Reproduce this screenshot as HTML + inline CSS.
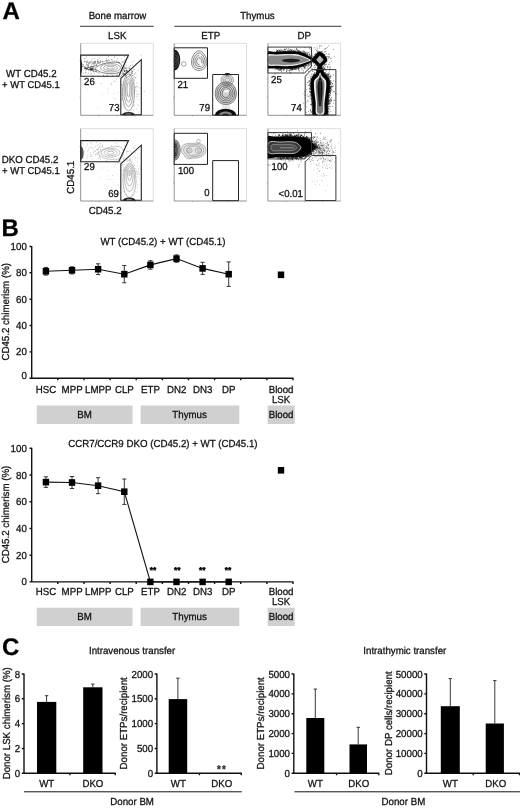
<!DOCTYPE html>
<html><head><meta charset="utf-8"><title>Figure</title>
<style>html,body{margin:0;padding:0;background:#fff}svg{display:block}text{font-family:"Liberation Sans",sans-serif;text-rendering:geometricPrecision;fill:#111;stroke:#111;stroke-width:.28px}.b{font-weight:bold;fill:#000}.m{text-anchor:middle}.e{text-anchor:end}</style></head><body>
<svg width="520" height="808" viewBox="0 0 520 808">
<defs><filter id="bl1" x="-20%" y="-20%" width="140%" height="140%"><feGaussianBlur stdDeviation="0.6"/></filter><filter id="bl2" x="-20%" y="-20%" width="140%" height="140%"><feGaussianBlur stdDeviation="1.2"/></filter><filter id="blc" x="-20%" y="-20%" width="140%" height="140%"><feGaussianBlur stdDeviation="0.3"/></filter><filter id="bl0" x="-20%" y="-20%" width="140%" height="140%"><feGaussianBlur stdDeviation="0.35"/></filter></defs>
<rect width="520" height="808" fill="#fff"/>
<text x="2.5" y="19" font-size="24" class="b">A</text>
<text x="117.5" y="19.3" font-size="10.19" textLength="57.7" lengthAdjust="spacingAndGlyphs" class="m">Bone marrow</text>
<path d="M80 26.3H153.7M174.3 26.3H341.3" stroke="#222" stroke-width="0.9"/>
<text x="257.4" y="19.3" font-size="10.19" textLength="34.5" lengthAdjust="spacingAndGlyphs" class="m">Thymus</text>
<text x="117.2" y="38.7" font-size="10.19" textLength="18.3" lengthAdjust="spacingAndGlyphs" class="m">LSK</text>
<text x="210.7" y="38.7" font-size="10.19" textLength="18.9" lengthAdjust="spacingAndGlyphs" class="m">ETP</text>
<text x="304.3" y="38.7" font-size="10.19" textLength="13.5" lengthAdjust="spacingAndGlyphs" class="m">DP</text>
<text x="6.1" y="76.5" font-size="10.19" textLength="50.5" lengthAdjust="spacingAndGlyphs">WT CD45.2</text>
<text x="2.1" y="88.1" font-size="9.97" textLength="57.6" lengthAdjust="spacingAndGlyphs">+ WT CD45.1</text>
<text x="1.7" y="162.8" font-size="10.19" textLength="56.6" lengthAdjust="spacingAndGlyphs">DKO CD45.2</text>
<text x="2.1" y="174.1" font-size="9.97" textLength="57.6" lengthAdjust="spacingAndGlyphs">+ WT CD45.1</text>
<text x="0" y="0" font-size="10.19" textLength="32.9" lengthAdjust="spacingAndGlyphs" class="m" transform="translate(74.2,177.2) rotate(-90)">CD45.1</text>
<text x="88.7" y="213.7" font-size="10.19" textLength="32.9" lengthAdjust="spacingAndGlyphs">CD45.2</text>
<path d="M80.7 43.3H153.3V115.3" stroke="#d4d4d4" stroke-width="0.8" fill="none"/>
<path d="M80.7 43.3V115.3H153.3" stroke="#777" stroke-width="0.8" fill="none"/>
<path d="M98.9 115.3v1.2M80.7 97.1h-1.2M117.0 115.3v1.2M80.7 79.0h-1.2M135.2 115.3v1.2M80.7 60.8h-1.2" stroke="#888" stroke-width="0.6"/>
<path d="M174.2 43.3H246.5V115.3" stroke="#d4d4d4" stroke-width="0.8" fill="none"/>
<path d="M174.2 43.3V115.3H246.5" stroke="#777" stroke-width="0.8" fill="none"/>
<path d="M192.3 115.3v1.2M174.2 97.2h-1.2M210.3 115.3v1.2M174.2 79.1h-1.2M228.4 115.3v1.2M174.2 61.1h-1.2" stroke="#888" stroke-width="0.6"/>
<path d="M267.9 43.3H340.6V115.3" stroke="#d4d4d4" stroke-width="0.8" fill="none"/>
<path d="M267.9 43.3V115.3H340.6" stroke="#777" stroke-width="0.8" fill="none"/>
<path d="M286.1 115.3v1.2M267.9 97.1h-1.2M304.2 115.3v1.2M267.9 78.9h-1.2M322.4 115.3v1.2M267.9 60.8h-1.2" stroke="#888" stroke-width="0.6"/>
<path d="M80.7 128.6H153.3V201" stroke="#d4d4d4" stroke-width="0.8" fill="none"/>
<path d="M80.7 128.6V201H153.3" stroke="#777" stroke-width="0.8" fill="none"/>
<path d="M98.9 201v1.2M80.7 182.8h-1.2M117.0 201v1.2M80.7 164.7h-1.2M135.2 201v1.2M80.7 146.6h-1.2" stroke="#888" stroke-width="0.6"/>
<path d="M174.2 128.6H246.5V201" stroke="#d4d4d4" stroke-width="0.8" fill="none"/>
<path d="M174.2 128.6V201H246.5" stroke="#777" stroke-width="0.8" fill="none"/>
<path d="M192.3 201v1.2M174.2 182.9h-1.2M210.3 201v1.2M174.2 164.8h-1.2M228.4 201v1.2M174.2 146.8h-1.2" stroke="#888" stroke-width="0.6"/>
<path d="M267.9 128.6H340.6V201" stroke="#d4d4d4" stroke-width="0.8" fill="none"/>
<path d="M267.9 128.6V201H340.6" stroke="#777" stroke-width="0.8" fill="none"/>
<path d="M286.1 201v1.2M267.9 182.8h-1.2M304.2 201v1.2M267.9 164.6h-1.2M322.4 201v1.2M267.9 146.5h-1.2" stroke="#888" stroke-width="0.6"/>
<path d="M87.9 65.9h0.7M88.4 64.9h0.7M91.4 73.7h0.7M91.9 63.8h0.7M94.2 63.0h0.7M93.2 71.7h0.7M89.5 67.8h0.7M105.5 60.8h0.7M98.6 63.5h0.7M101.6 61.6h0.7M94.1 61.7h0.7M87.4 64.7h0.7M116.8 58.7h0.7M85.4 70.7h0.7M110.9 59.6h0.7M83.0 73.2h0.7M91.4 65.1h0.7M88.6 70.6h0.7M82.1 66.3h0.7M118.3 62.7h0.7M116.4 61.7h0.7M89.8 69.3h0.7M126.1 68.1h0.7M94.4 65.3h0.7M123.9 56.5h0.7M85.4 67.8h0.7M94.4 69.4h0.7M92.8 66.4h0.7M114.2 56.1h0.7M114.2 61.0h0.7M108.9 60.8h0.7M98.8 72.9h0.7M86.7 60.9h0.7M119.1 63.0h0.7M100.0 62.2h0.7M88.4 73.0h0.7M119.5 62.7h0.7M90.3 70.9h0.7M119.4 73.2h0.7M91.3 70.3h0.7M84.0 66.7h0.7M92.3 67.7h0.7M123.3 67.0h0.7M97.4 61.8h0.7M92.8 71.1h0.7M102.2 62.1h0.7M88.3 63.7h0.7M84.7 68.3h0.7M91.7 59.0h0.7M105.9 58.5h0.7M96.1 64.9h0.7M125.2 59.8h0.7M87.9 69.6h0.7M124.5 66.3h0.7M88.2 66.4h0.7M86.8 65.4h0.7M88.9 63.4h0.7M108.3 56.4h0.7M117.2 74.0h0.7M81.8 64.1h0.7M94.8 62.9h0.7M84.5 61.4h0.7M122.1 70.8h0.7M123.7 70.0h0.7M88.7 67.8h0.7M90.5 66.3h0.7M95.8 70.0h0.7M91.9 66.8h0.7M98.3 61.8h0.7M87.9 69.8h0.7M85.9 56.3h0.7M86.5 73.1h0.7M95.0 61.3h0.7M90.1 68.9h0.7M121.5 70.7h0.7M96.1 71.1h0.7M95.5 70.3h0.7M84.8 67.6h0.7M86.3 64.3h0.7M100.1 60.9h0.7M94.3 58.8h0.7M91.1 69.1h0.7M97.0 61.1h0.7M123.8 68.9h0.7M97.6 59.5h0.7M108.2 59.8h0.7M91.8 61.2h0.7M82.9 64.8h0.7M86.2 62.5h0.7M106.4 60.5h0.7M83.9 66.7h0.7M87.2 66.9h0.7M101.9 61.3h0.7M90.6 61.4h0.7M95.1 63.8h0.7M85.5 66.3h0.7M93.6 67.2h0.7M114.5 57.3h0.7M90.2 67.8h0.7M103.2 75.3h0.7M89.5 67.8h0.7M90.0 73.8h0.7M91.0 69.7h0.7M91.2 70.0h0.7M93.2 75.9h0.7M91.6 66.6h0.7M117.8 61.9h0.7M98.4 62.4h0.7M100.3 61.0h0.7M88.3 67.4h0.7M93.7 73.1h0.7M93.9 64.0h0.7M87.8 65.4h0.7M107.4 75.2h0.7M90.8 66.9h0.7M93.2 67.5h0.7M100.0 62.7h0.7M86.4 69.3h0.7M91.6 69.3h0.7M81.7 66.7h0.7M88.6 69.4h0.7M124.2 64.6h0.7M111.7 59.8h0.7M86.7 61.4h0.7M84.1 68.1h0.7M103.2 75.7h0.7M93.2 64.1h0.7M86.8 62.1h0.7M83.0 66.0h0.7M92.9 68.6h0.7M95.4 71.0h0.7M91.2 68.3h0.7M85.3 58.9h0.7M92.9 70.4h0.7M96.4 64.4h0.7M106.2 60.5h0.7M91.2 66.7h0.7M91.6 66.9h0.7M83.9 58.4h0.7M121.6 61.8h0.7M112.0 75.4h0.7M93.5 63.4h0.7M91.8 69.4h0.7M85.0 72.6h0.7M99.5 58.2h0.7M94.5 69.5h0.7M98.4 73.1h0.7M92.5 68.8h0.7M86.3 68.8h0.7M106.9 60.6h0.7" stroke="#555" stroke-width="0.66" opacity="1" fill="none"/>
<path d="M107.1 61.1h0.7M89.6 61.9h0.7M93.2 63.0h0.7M99.0 62.0h0.7M98.1 62.6h0.7M82.6 64.3h0.7M124.5 60.7h0.7M97.5 62.6h0.7M94.7 61.5h0.7M99.2 63.1h0.7M84.9 61.5h0.7M97.7 60.8h0.7M94.9 62.0h0.7M103.4 61.7h0.7M87.4 62.0h0.7M97.4 61.8h0.7M98.1 62.9h0.7M88.6 62.0h0.7M89.3 62.3h0.7M104.3 61.2h0.7M112.3 60.8h0.7M106.7 61.6h0.7M96.7 63.7h0.7M84.3 61.7h0.7M97.5 63.4h0.7M93.3 61.9h0.7M94.7 61.8h0.7M94.9 62.8h0.7M102.2 61.3h0.7M86.0 62.9h0.7M94.6 62.0h0.7M89.7 62.7h0.7M87.5 64.2h0.7M92.1 63.3h0.7M90.2 62.9h0.7M124.6 60.3h0.7M92.8 62.7h0.7M96.9 61.8h0.7M123.8 62.4h0.7M91.1 62.4h0.7M81.3 60.9h0.7M88.2 63.0h0.7M108.6 60.3h0.7M100.0 62.7h0.7M94.0 62.3h0.7" stroke="#666" stroke-width="0.66" opacity="1" fill="none"/>
<path d="M133.2 69.7h0.7M125.3 70.5h0.7M111.2 84.7h0.7M116.2 75.1h0.7M121.3 59.1h0.7M124.1 73.8h0.7M114.7 81.1h0.7M113.5 81.3h0.7M115.9 78.8h0.7M135.0 77.6h0.7M118.2 76.4h0.7M125.2 62.1h0.7M119.1 77.3h0.7M120.2 76.6h0.7M121.7 75.9h0.7M121.8 73.5h0.7M122.6 62.2h0.7M121.3 75.8h0.7M116.2 75.8h0.7M140.6 55.1h0.7M122.3 61.4h0.7M104.0 77.0h0.7M128.4 58.1h0.7M124.2 71.3h0.7M125.8 71.9h0.7M106.0 75.7h0.7M117.0 75.7h0.7M116.7 60.6h0.7M131.1 68.7h0.7M143.9 91.4h0.7" stroke="#777" stroke-width="0.66" opacity="1" fill="none"/>
<path d="M101.1 83.3h0.6M110.3 83.0h0.6M97.1 107.7h0.6M102.2 94.7h0.6M107.9 88.2h0.6M111.2 83.7h0.6M95.3 82.9h0.6M107.8 92.7h0.6M113.6 93.4h0.6M100.1 83.5h0.6M86.8 90.0h0.6M112.8 98.4h0.6M106.8 89.9h0.6M117.4 92.2h0.6M115.4 99.0h0.6M110.1 107.7h0.6" stroke="#999" stroke-width="0.60" opacity="1" fill="none"/>
<path d="M80.7 58.5q3 8 0 17z" fill="#222" filter="url(#bl0)"/>
<path d="M97.5 65.2Q90 67.5 84 68.3Q90 69.3 97.5 72.2" stroke="#444" stroke-width="0.55" fill="none"/>
<ellipse cx="91.5" cy="69.3" rx="2.2" ry="1" fill="#333" filter="url(#bl0)"/>
<ellipse cx="86.5" cy="68.6" rx="1.5" ry="0.8" fill="#444" filter="url(#bl0)"/>
<path d="M94.8 68.6C100 63 112 61.3 118 62.5C123.5 63.8 123.5 71 118 72.8C112 74.6 100 73.8 94.8 68.6Z" transform="translate(110.5 67.8) scale(1 1) translate(-110.5 -67.8)" vector-effect="non-scaling-stroke" stroke="#333" stroke-width="0.6" fill="none" filter="url(#blc)"/>
<ellipse cx="110.5" cy="67.75" rx="10" ry="4.25" stroke="#707070" stroke-width="0.6" fill="none" filter="url(#blc)"/>
<ellipse cx="110.5" cy="67.75" rx="7" ry="2.75" stroke="#707070" stroke-width="0.6" fill="none" filter="url(#blc)"/>
<ellipse cx="110.5" cy="67.75" rx="4" ry="1.25" stroke="#707070" stroke-width="0.6" fill="none" filter="url(#blc)"/>
<path d="M124.6 75.6h0.6M136.0 108.9h0.6M134.3 69.6h0.6M135.4 87.4h0.6M125.3 74.8h0.6M135.7 77.9h0.6M136.3 94.1h0.6M134.6 87.3h0.6M121.6 85.2h0.6M138.1 94.2h0.6M130.1 65.8h0.6M137.8 87.0h0.6M128.3 71.5h0.6M128.2 71.8h0.6M125.4 62.4h0.6M123.7 81.4h0.6M129.9 70.6h0.6M123.5 71.4h0.6M125.4 61.7h0.6M137.8 99.4h0.6M137.2 104.6h0.6M126.1 68.8h0.6M125.9 65.9h0.6M134.4 93.0h0.6M122.7 104.1h0.6M132.8 61.2h0.6M137.3 96.5h0.6M138.4 70.0h0.6M133.6 66.6h0.6M122.5 67.9h0.6M134.0 82.5h0.6M132.5 71.5h0.6M134.1 86.4h0.6M123.3 106.1h0.6M126.7 71.5h0.6M135.9 97.1h0.6M125.7 64.4h0.6M133.1 77.1h0.6M128.6 67.3h0.6M133.7 106.7h0.6M124.4 67.8h0.6M129.4 69.1h0.6M125.8 62.0h0.6M136.2 82.7h0.6M138.4 105.9h0.6M137.0 83.7h0.6M128.0 72.2h0.6M121.7 99.6h0.6M126.5 71.6h0.6M124.9 75.3h0.6M122.0 98.0h0.6M132.8 78.5h0.6M129.6 66.1h0.6M132.8 70.3h0.6M125.2 74.9h0.6M130.0 65.9h0.6M124.9 76.8h0.6M129.3 73.3h0.6M134.3 89.9h0.6M133.0 105.2h0.6M133.9 80.3h0.6M121.7 84.6h0.6M131.3 72.1h0.6M122.1 99.8h0.6M138.5 112.1h0.6M122.0 95.6h0.6M134.0 80.1h0.6M134.2 102.3h0.6M131.0 68.8h0.6M122.4 89.2h0.6M132.2 64.3h0.6M130.8 75.5h0.6M136.2 86.4h0.6M122.3 94.0h0.6M137.0 74.9h0.6M136.9 94.6h0.6M135.5 73.3h0.6M134.3 104.9h0.6M140.3 88.3h0.6M135.5 72.9h0.6M133.5 109.8h0.6M122.0 71.7h0.6M123.5 62.0h0.6M130.7 61.9h0.6M137.7 87.0h0.6M122.5 89.3h0.6M123.8 64.5h0.6M124.1 72.0h0.6M135.0 89.2h0.6M123.0 85.0h0.6M127.2 68.1h0.6M123.5 108.0h0.6M130.8 74.3h0.6M123.7 67.0h0.6M122.9 68.9h0.6M135.9 91.2h0.6M133.0 75.3h0.6M134.3 77.6h0.6M123.9 66.8h0.6M134.1 76.4h0.6M123.5 73.8h0.6M126.4 69.5h0.6M125.9 73.5h0.6M125.9 75.7h0.6M132.2 65.5h0.6M134.4 91.7h0.6M130.8 70.2h0.6M133.1 79.1h0.6M133.9 84.2h0.6M135.8 86.6h0.6" stroke="#777" stroke-width="0.60" opacity="1" fill="none"/>
<ellipse cx="128.5" cy="92.5" rx="6" ry="18.5" stroke="#6a6a6a" stroke-width="0.6" fill="none" filter="url(#blc)"/>
<ellipse cx="128.5" cy="91.5" rx="4.5" ry="15" stroke="#6a6a6a" stroke-width="0.6" fill="none" filter="url(#blc)"/>
<ellipse cx="128.5" cy="90.5" rx="3" ry="11.5" stroke="#6a6a6a" stroke-width="0.6" fill="none" filter="url(#blc)"/>
<ellipse cx="128.5" cy="89.5" rx="1.5" ry="7.5" stroke="#6a6a6a" stroke-width="0.6" fill="none" filter="url(#blc)"/>
<path d="M132.1 75.6h0.7M131.6 74.1h0.7M126.9 72.3h0.7M126.1 70.5h0.7M126.3 70.7h0.7M131.4 73.1h0.7M125.2 68.2h0.7M126.3 71.2h0.7M123.2 69.7h0.7M126.3 77.2h0.7M126.4 71.7h0.7M130.8 72.3h0.7M127.0 71.3h0.7M124.7 75.0h0.7M129.5 75.4h0.7M125.5 72.1h0.7M123.9 73.9h0.7M122.3 73.1h0.7M129.8 74.8h0.7M123.7 74.2h0.7M124.4 70.5h0.7M122.5 74.3h0.7M131.4 70.8h0.7M124.2 71.3h0.7M134.0 74.0h0.7M124.9 68.4h0.7M124.5 74.4h0.7M132.1 71.5h0.7M124.4 71.0h0.7M123.2 74.1h0.7M127.4 70.5h0.7M128.8 72.0h0.7M123.0 73.2h0.7M129.0 68.2h0.7M132.0 73.0h0.7M128.8 68.3h0.7M124.3 71.3h0.7M129.7 69.1h0.7M123.8 67.9h0.7M125.8 72.7h0.7" stroke="#333" stroke-width="0.72" opacity="1" fill="none"/>
<clipPath id="cLb"><rect x="110" y="100" width="40" height="15.3"/></clipPath>
<ellipse cx="128.5" cy="114.8" rx="6.2" ry="2.8" fill="#222" filter="url(#bl0)" clip-path="url(#cLb)"/>
<ellipse cx="128.5" cy="114.4" rx="3" ry="0.9" fill="#ccc" clip-path="url(#cLb)"/>
<path d="M80.7 55.1L128.5 55.1L118.8 76.2L80.7 76.2Z" stroke="#222" stroke-width="1.1" fill="none"/>
<path d="M120.8 78.3L141.3 59.7L141.3 114.8L120.8 114.8Z" stroke="#222" stroke-width="1.1" fill="none"/>
<clipPath id="cEa"><rect x="174.2" y="43" width="40" height="40"/></clipPath>
<ellipse cx="174.2" cy="60" rx="6" ry="10.5" fill="#111" filter="url(#bl1)" clip-path="url(#cEa)"/>
<path d="M174.6 52a4.2 8 0 0 1 0 16" stroke="#aaa" stroke-width="0.4" fill="none"/>
<path d="M174.6 54.5a2.8 5.5 0 0 1 0 11.0" stroke="#aaa" stroke-width="0.4" fill="none"/>
<path d="M174.6 57a1.5 3 0 0 1 0 6" stroke="#aaa" stroke-width="0.4" fill="none"/>
<ellipse cx="183.8" cy="63.9" rx="2.4" ry="2.2" stroke="#555" stroke-width="0.55" fill="none" filter="url(#blc)"/>
<path d="M199 50.8C203 50.8 206.8 57 206.8 62C206.8 67 203.5 70.5 199 70.5C194.5 70.5 191.5 67 191.5 62C191.5 57 195 50.8 199 50.8Z" fill="#ccc" opacity="0.3"/>
<path d="M199 50.8C203 50.8 206.8 57 206.8 62C206.8 67 203.5 70.5 199 70.5C194.5 70.5 191.5 67 191.5 62C191.5 57 195 50.8 199 50.8Z" transform="translate(199.3 61.5) scale(1 1) translate(-199.3 -61.5)" vector-effect="non-scaling-stroke" stroke="#4a4a4a" stroke-width="0.62" fill="none" filter="url(#blc)"/>
<path d="M199 50.8C203 50.8 206.8 57 206.8 62C206.8 67 203.5 70.5 199 70.5C194.5 70.5 191.5 67 191.5 62C191.5 57 195 50.8 199 50.8Z" transform="translate(199.3 61.5) scale(0.78 0.78) translate(-199.3 -61.5)" vector-effect="non-scaling-stroke" stroke="#4a4a4a" stroke-width="0.62" fill="none" filter="url(#blc)"/>
<path d="M199 50.8C203 50.8 206.8 57 206.8 62C206.8 67 203.5 70.5 199 70.5C194.5 70.5 191.5 67 191.5 62C191.5 57 195 50.8 199 50.8Z" transform="translate(199.3 61.5) scale(0.56 0.56) translate(-199.3 -61.5)" vector-effect="non-scaling-stroke" stroke="#4a4a4a" stroke-width="0.62" fill="none" filter="url(#blc)"/>
<path d="M199 50.8C203 50.8 206.8 57 206.8 62C206.8 67 203.5 70.5 199 70.5C194.5 70.5 191.5 67 191.5 62C191.5 57 195 50.8 199 50.8Z" transform="translate(199.3 61.5) scale(0.35 0.35) translate(-199.3 -61.5)" vector-effect="non-scaling-stroke" stroke="#4a4a4a" stroke-width="0.62" fill="none" filter="url(#blc)"/>
<ellipse cx="201" cy="64.5" rx="1.6" ry="1.4" fill="#fff"/>
<ellipse cx="200" cy="55" rx="1.2" ry="1.5" fill="#fff" opacity="0.8"/>
<path d="M225.8 82C232 82 236.3 87 236.3 93.5C236.3 100 232 104.5 225.8 104.5C219.6 104.5 215.3 100 215.3 93.5C215.3 87 219.6 82 225.8 82Z" fill="#999" opacity="0.45"/>
<path d="M227.3 74.6C231 74.6 233.5 77 233.5 80C233.5 83 231 86 227.3 86C223.6 86 221 83 221 80C221 77 223.6 74.6 227.3 74.6Z" fill="#bbb" opacity="0.4"/>
<path d="M227.3 74.6C231 74.6 233.5 77 233.5 80C233.5 83 231 86 227.3 86C223.6 86 221 83 221 80C221 77 223.6 74.6 227.3 74.6Z" transform="translate(227.3 80) scale(1 1) translate(-227.3 -80)" vector-effect="non-scaling-stroke" stroke="#666" stroke-width="0.55" fill="none" filter="url(#blc)"/>
<path d="M227.3 74.6C231 74.6 233.5 77 233.5 80C233.5 83 231 86 227.3 86C223.6 86 221 83 221 80C221 77 223.6 74.6 227.3 74.6Z" transform="translate(227.3 80) scale(0.68 0.68) translate(-227.3 -80)" vector-effect="non-scaling-stroke" stroke="#666" stroke-width="0.55" fill="none" filter="url(#blc)"/>
<path d="M227.3 74.6C231 74.6 233.5 77 233.5 80C233.5 83 231 86 227.3 86C223.6 86 221 83 221 80C221 77 223.6 74.6 227.3 74.6Z" transform="translate(227.3 80) scale(0.36 0.36) translate(-227.3 -80)" vector-effect="non-scaling-stroke" stroke="#666" stroke-width="0.55" fill="none" filter="url(#blc)"/>
<path d="M225.8 82C232 82 236.3 87 236.3 93.5C236.3 100 232 104.5 225.8 104.5C219.6 104.5 215.3 100 215.3 93.5C215.3 87 219.6 82 225.8 82Z" transform="translate(225.8 93.5) scale(1 1) translate(-225.8 -93.5)" vector-effect="non-scaling-stroke" stroke="#444" stroke-width="0.65" fill="none" filter="url(#blc)"/>
<path d="M225.8 82C232 82 236.3 87 236.3 93.5C236.3 100 232 104.5 225.8 104.5C219.6 104.5 215.3 100 215.3 93.5C215.3 87 219.6 82 225.8 82Z" transform="translate(225.8 93.5) scale(0.84 0.84) translate(-225.8 -93.5)" vector-effect="non-scaling-stroke" stroke="#444" stroke-width="0.65" fill="none" filter="url(#blc)"/>
<path d="M225.8 82C232 82 236.3 87 236.3 93.5C236.3 100 232 104.5 225.8 104.5C219.6 104.5 215.3 100 215.3 93.5C215.3 87 219.6 82 225.8 82Z" transform="translate(225.8 93.5) scale(0.68 0.68) translate(-225.8 -93.5)" vector-effect="non-scaling-stroke" stroke="#444" stroke-width="0.65" fill="none" filter="url(#blc)"/>
<path d="M225.8 82C232 82 236.3 87 236.3 93.5C236.3 100 232 104.5 225.8 104.5C219.6 104.5 215.3 100 215.3 93.5C215.3 87 219.6 82 225.8 82Z" transform="translate(225.8 93.5) scale(0.52 0.52) translate(-225.8 -93.5)" vector-effect="non-scaling-stroke" stroke="#444" stroke-width="0.65" fill="none" filter="url(#blc)"/>
<path d="M225.8 82C232 82 236.3 87 236.3 93.5C236.3 100 232 104.5 225.8 104.5C219.6 104.5 215.3 100 215.3 93.5C215.3 87 219.6 82 225.8 82Z" transform="translate(225.8 93.5) scale(0.36 0.36) translate(-225.8 -93.5)" vector-effect="non-scaling-stroke" stroke="#444" stroke-width="0.65" fill="none" filter="url(#blc)"/>
<ellipse cx="226.5" cy="91" rx="2.6" ry="1.8" fill="#fff" opacity="0.85"/>
<path d="M223 104v5M229 104v5M225 104.5v4M227 104.5v4" stroke="#888" stroke-width="0.4"/>
<clipPath id="cF"><rect x="210" y="100" width="32" height="15.2"/></clipPath>
<ellipse cx="225.6" cy="114.8" rx="10.6" ry="6" fill="#111" filter="url(#bl0)" clip-path="url(#cF)"/>
<ellipse cx="225.6" cy="114.8" rx="6.5" ry="3.2" fill="#888" clip-path="url(#cF)"/>
<ellipse cx="225.6" cy="115" rx="3.5" ry="1.6" fill="#222" clip-path="url(#cF)"/>
<ellipse cx="227.3" cy="74.2" rx="2.8" ry="1.3" fill="#111"/>
<path d="M174.2 47.8L207.5 47.8L207.5 78.3L174.2 78.3Z" stroke="#222" stroke-width="1.0" fill="none"/>
<path d="M212.7 74.5L238.5 74.5L238.5 115.2L212.7 115.2Z" stroke="#222" stroke-width="1.0" fill="none"/>
<clipPath id="cDa"><rect x="267.9" y="43.3" width="72.5" height="72"/></clipPath>
<g clip-path="url(#cDa)">
<path d="M299.2 71.1h0.7M302.0 57.9h0.7M268.8 53.4h0.7M278.0 61.0h0.7M289.1 71.7h0.7M295.2 52.5h0.7M317.8 66.6h0.7M291.8 55.0h0.7M306.4 54.4h0.7M294.4 64.2h0.7M301.8 69.9h0.7M274.9 66.9h0.7M272.2 64.9h0.7M293.2 61.7h0.7M307.4 59.9h0.7M310.0 66.1h0.7M292.4 56.0h0.7M276.4 56.3h0.7M286.4 59.8h0.7M303.8 54.0h0.7M277.2 57.8h0.7M293.5 52.7h0.7M319.0 56.1h0.7M289.9 61.9h0.7M293.4 64.2h0.7M295.0 61.1h0.7M295.5 58.6h0.7M275.2 55.9h0.7M289.0 69.0h0.7M281.3 53.9h0.7M279.9 61.3h0.7M290.9 61.9h0.7M289.4 66.5h0.7M322.0 51.3h0.7M292.9 58.1h0.7M296.4 49.3h0.7M299.5 61.3h0.7M283.3 54.7h0.7M302.6 63.8h0.7M289.6 63.6h0.7M279.1 60.5h0.7M290.7 63.9h0.7M288.7 59.0h0.7M287.6 55.5h0.7M315.3 49.1h0.7M302.5 65.9h0.7M303.9 51.8h0.7M274.3 61.9h0.7M299.1 52.8h0.7M283.1 57.2h0.7M291.1 62.4h0.7M284.8 51.3h0.7M312.4 71.2h0.7M288.1 67.2h0.7M298.0 64.6h0.7M298.7 54.7h0.7M300.3 67.1h0.7M273.9 73.8h0.7M283.9 55.8h0.7M275.4 60.8h0.7M289.4 64.7h0.7M302.2 63.3h0.7M294.9 58.5h0.7M287.8 54.2h0.7M293.2 59.8h0.7M295.8 54.0h0.7M290.7 60.3h0.7M300.9 52.6h0.7M297.6 66.9h0.7M300.7 57.4h0.7M281.2 58.3h0.7M303.1 70.9h0.7M287.2 55.5h0.7M296.8 61.4h0.7M273.7 54.8h0.7M288.2 64.7h0.7M268.5 52.9h0.7M299.0 51.4h0.7M292.0 62.5h0.7M288.0 52.9h0.7M288.9 57.7h0.7M296.0 54.1h0.7M309.6 48.3h0.7M286.8 60.1h0.7M307.3 55.7h0.7M299.8 56.0h0.7M303.3 72.2h0.7M282.8 63.1h0.7M273.3 66.8h0.7M311.8 60.2h0.7M269.6 62.8h0.7M310.7 67.6h0.7M277.8 70.0h0.7M310.2 57.7h0.7M286.4 59.7h0.7M302.5 59.0h0.7M293.5 63.0h0.7M289.9 72.9h0.7M298.0 60.6h0.7M286.3 55.6h0.7M314.2 61.1h0.7M270.6 56.1h0.7M287.5 56.9h0.7M309.5 51.9h0.7M298.9 61.0h0.7M268.8 60.3h0.7M288.3 63.5h0.7M281.9 62.1h0.7M304.1 67.3h0.7M289.8 55.8h0.7M275.6 64.7h0.7M301.7 52.8h0.7M292.8 53.7h0.7M291.0 66.3h0.7M303.9 47.5h0.7M310.5 62.8h0.7M290.1 67.3h0.7M278.5 55.1h0.7M283.3 59.5h0.7M270.5 63.4h0.7M299.8 60.5h0.7M320.6 57.7h0.7M313.5 56.2h0.7M293.6 58.8h0.7M281.1 55.7h0.7M283.7 55.0h0.7M280.1 56.3h0.7M271.0 59.1h0.7M304.1 58.2h0.7M281.1 69.5h0.7M307.6 66.5h0.7M310.8 57.7h0.7M287.7 67.8h0.7M280.0 59.2h0.7M296.8 62.6h0.7M285.0 66.9h0.7M286.8 65.1h0.7M309.3 64.6h0.7M303.2 51.9h0.7M298.6 70.5h0.7M274.6 54.9h0.7M285.0 64.8h0.7M293.8 68.3h0.7M272.3 66.2h0.7M306.7 60.5h0.7M298.6 56.1h0.7M270.4 57.2h0.7M281.3 71.6h0.7M293.6 62.2h0.7M303.4 54.5h0.7M306.5 62.6h0.7M299.9 63.2h0.7M318.5 57.1h0.7M299.2 65.2h0.7M273.8 68.4h0.7M299.4 52.4h0.7M287.9 48.5h0.7M291.2 52.1h0.7M296.2 49.3h0.7M298.1 58.1h0.7M291.2 59.5h0.7M292.4 50.8h0.7M273.2 56.8h0.7M276.3 55.7h0.7M271.0 62.3h0.7M287.5 54.3h0.7M272.3 65.7h0.7M278.1 64.1h0.7M270.5 60.0h0.7M296.2 65.5h0.7M304.4 67.2h0.7M283.3 58.5h0.7M304.0 57.0h0.7M309.0 48.9h0.7M301.8 58.8h0.7M295.6 60.1h0.7M270.6 56.7h0.7M317.2 54.2h0.7M268.4 59.1h0.7M282.9 53.6h0.7M274.8 67.3h0.7M280.2 52.4h0.7M304.2 63.9h0.7M271.2 65.2h0.7M310.3 58.2h0.7M306.5 59.8h0.7M297.5 65.4h0.7M281.3 59.7h0.7M311.7 53.4h0.7M304.4 55.3h0.7M298.3 64.8h0.7M268.7 59.4h0.7M294.3 64.1h0.7M273.3 53.1h0.7M286.5 58.4h0.7M280.4 70.0h0.7M305.3 60.1h0.7M303.1 52.2h0.7M284.1 56.0h0.7M287.4 70.0h0.7M273.5 56.8h0.7M297.6 62.8h0.7M290.5 56.7h0.7M298.9 62.5h0.7M292.6 60.4h0.7M292.0 53.9h0.7M286.4 53.6h0.7M296.9 64.8h0.7M321.6 68.9h0.7M275.5 56.8h0.7M273.1 62.1h0.7M290.0 62.1h0.7M274.7 73.8h0.7M296.2 54.5h0.7M290.8 67.0h0.7M287.5 55.1h0.7M276.7 73.3h0.7M290.5 64.3h0.7M282.7 63.5h0.7M304.7 59.0h0.7M281.8 58.7h0.7M272.6 58.5h0.7M284.6 61.5h0.7M314.1 69.2h0.7M282.0 64.2h0.7M295.3 65.3h0.7M290.4 61.9h0.7M281.6 54.5h0.7M305.7 69.1h0.7M301.9 63.1h0.7M294.8 56.8h0.7M293.6 56.1h0.7M272.6 68.9h0.7M277.1 59.8h0.7M280.9 61.1h0.7M286.2 54.8h0.7M309.3 54.5h0.7M280.9 63.9h0.7M280.3 57.0h0.7M296.4 57.4h0.7M286.0 71.9h0.7M270.3 66.8h0.7M275.9 57.5h0.7M284.1 61.9h0.7M305.5 72.2h0.7M278.5 69.3h0.7M307.9 65.7h0.7M276.3 66.3h0.7M288.1 62.5h0.7M285.2 64.6h0.7M310.1 67.9h0.7M286.3 67.0h0.7M316.1 53.5h0.7M316.5 50.7h0.7M299.8 64.2h0.7M316.7 62.0h0.7M281.3 54.4h0.7M285.7 55.0h0.7M299.6 54.6h0.7M282.1 56.8h0.7" stroke="#333" stroke-width="0.66" opacity="1" fill="none"/>
<path d="M330.8 69.2h0.7M319.0 48.0h0.7M321.8 59.5h0.7M322.3 63.0h0.7M317.9 65.5h0.7M325.4 60.5h0.7M317.4 55.6h0.7M324.5 51.3h0.7M319.0 53.8h0.7M310.9 63.2h0.7M319.8 59.3h0.7M325.7 48.5h0.7M319.6 61.0h0.7M325.4 51.4h0.7M324.7 60.5h0.7M328.8 67.0h0.7M323.6 74.0h0.7M320.0 56.0h0.7M317.8 52.4h0.7M319.8 45.9h0.7M319.5 62.0h0.7M326.4 56.6h0.7M329.0 54.4h0.7M319.1 45.9h0.7M315.1 53.5h0.7M329.5 62.6h0.7M313.0 62.6h0.7M323.1 57.4h0.7M320.1 56.9h0.7M316.6 46.9h0.7M319.4 67.8h0.7M329.1 57.1h0.7M315.3 57.6h0.7M325.7 61.4h0.7M316.3 61.5h0.7M318.7 62.5h0.7M317.4 49.0h0.7M320.4 64.2h0.7M313.0 58.3h0.7M325.6 56.4h0.7M315.9 72.9h0.7M325.3 66.0h0.7M314.0 70.1h0.7M309.5 55.5h0.7M324.7 68.1h0.7M314.1 54.5h0.7M321.2 45.9h0.7M324.0 62.8h0.7M317.2 62.7h0.7M324.9 61.1h0.7M323.3 69.3h0.7M317.0 60.1h0.7M316.7 66.0h0.7M317.4 62.2h0.7M320.9 59.5h0.7M330.8 58.4h0.7M328.9 64.6h0.7M328.3 57.9h0.7M325.8 64.1h0.7M316.1 60.8h0.7M319.2 58.8h0.7M328.2 54.1h0.7M309.4 47.2h0.7M317.2 54.6h0.7M320.1 62.8h0.7M331.0 61.1h0.7M322.9 54.0h0.7M323.6 68.2h0.7M328.4 45.8h0.7M325.6 69.7h0.7M325.2 48.9h0.7M318.1 63.0h0.7M322.6 53.5h0.7M314.4 65.5h0.7M311.6 68.7h0.7M320.1 61.0h0.7M311.7 55.0h0.7M324.3 49.1h0.7M333.0 49.5h0.7M312.4 59.3h0.7M323.0 63.9h0.7M317.7 57.6h0.7M318.5 55.1h0.7M321.6 60.1h0.7M316.1 60.7h0.7M319.9 58.5h0.7M326.9 47.4h0.7M321.6 51.8h0.7M318.0 69.1h0.7M313.2 58.3h0.7M316.3 65.4h0.7M313.9 47.7h0.7M323.2 56.6h0.7M318.0 66.3h0.7M314.5 56.5h0.7M320.9 61.8h0.7M316.8 66.0h0.7M334.0 56.3h0.7M328.8 56.7h0.7M320.9 56.7h0.7M316.0 50.4h0.7M317.5 67.7h0.7M327.1 56.7h0.7M316.7 54.3h0.7M312.5 71.1h0.7M324.1 59.8h0.7M316.9 52.1h0.7M328.2 64.2h0.7M314.1 65.6h0.7M313.1 63.3h0.7M314.0 56.2h0.7M323.1 61.9h0.7M326.3 53.4h0.7M329.9 68.0h0.7M319.9 62.1h0.7M315.1 58.0h0.7M311.8 59.6h0.7M321.2 68.0h0.7M325.9 64.5h0.7M317.7 57.5h0.7M317.9 60.5h0.7M308.0 64.2h0.7M310.2 55.5h0.7M320.1 55.5h0.7M330.4 58.3h0.7M329.8 66.9h0.7M316.9 61.7h0.7M328.1 56.8h0.7M320.6 55.2h0.7M320.4 56.6h0.7" stroke="#333" stroke-width="0.66" opacity="1" fill="none"/>
<path d="M320.7 108.4h0.7M330.1 94.2h0.7M321.6 106.0h0.7M318.0 74.7h0.7M328.1 76.7h0.7M326.8 76.3h0.7M333.3 75.0h0.7M325.3 103.4h0.7M319.7 87.0h0.7M317.4 87.3h0.7M307.2 82.7h0.7M317.5 80.4h0.7M323.0 109.3h0.7M325.3 72.9h0.7M321.3 94.3h0.7M330.5 111.5h0.7M323.9 111.8h0.7M317.0 98.5h0.7M326.7 77.1h0.7M321.3 91.1h0.7M317.7 100.1h0.7M304.9 91.6h0.7M320.7 87.7h0.7M316.9 76.7h0.7M315.7 93.5h0.7M324.3 77.9h0.7M327.3 75.3h0.7M326.1 99.0h0.7M318.2 89.3h0.7M323.5 106.1h0.7M310.5 96.5h0.7M314.8 102.3h0.7M330.0 92.8h0.7M319.3 95.0h0.7M324.1 94.7h0.7M317.2 80.1h0.7M318.8 111.8h0.7M319.4 114.0h0.7M322.1 91.8h0.7M308.1 81.1h0.7M329.1 70.9h0.7M313.0 74.1h0.7M316.1 102.5h0.7M330.6 82.3h0.7M319.5 71.8h0.7M315.5 80.1h0.7M312.8 86.6h0.7M326.4 97.7h0.7M313.0 93.9h0.7M320.3 104.4h0.7M317.7 99.5h0.7M335.3 93.6h0.7M312.3 97.4h0.7M314.3 86.0h0.7M321.5 97.5h0.7M318.1 105.8h0.7M318.7 70.7h0.7M326.4 86.1h0.7M328.8 81.3h0.7M324.2 97.1h0.7M312.0 115.0h0.7M306.5 106.9h0.7M328.0 100.1h0.7M325.0 83.9h0.7M320.0 95.7h0.7M323.1 103.5h0.7M318.6 80.6h0.7M316.1 98.7h0.7M308.1 71.5h0.7M317.1 83.0h0.7M317.6 87.9h0.7M317.9 99.7h0.7M323.6 111.5h0.7M327.7 74.9h0.7M324.7 86.5h0.7M315.6 78.0h0.7M317.2 78.1h0.7M327.4 98.2h0.7M330.2 98.7h0.7M315.7 109.1h0.7M315.4 84.4h0.7M318.9 92.6h0.7M328.7 82.1h0.7M322.6 91.5h0.7M311.0 74.1h0.7M318.5 98.6h0.7M322.4 99.8h0.7M320.5 84.7h0.7M323.2 75.6h0.7M310.4 86.6h0.7M309.8 83.6h0.7M314.7 82.9h0.7M319.8 78.9h0.7M321.1 77.6h0.7M314.3 96.0h0.7M320.8 93.7h0.7M309.3 95.8h0.7M321.2 76.1h0.7M325.5 91.2h0.7M320.2 84.6h0.7M324.1 93.6h0.7M328.3 99.4h0.7M315.6 88.3h0.7M326.7 86.0h0.7M322.9 100.6h0.7M321.1 95.5h0.7M321.1 79.5h0.7M328.9 89.8h0.7M315.6 80.2h0.7M322.7 74.1h0.7M329.6 109.3h0.7M330.0 101.8h0.7M307.9 111.6h0.7M329.1 100.1h0.7M305.9 112.4h0.7M330.0 83.9h0.7M321.0 104.8h0.7M319.5 110.1h0.7M320.7 103.4h0.7M320.7 67.7h0.7M322.1 113.6h0.7M324.1 82.2h0.7M318.7 106.9h0.7M304.4 95.2h0.7M326.1 113.9h0.7M313.4 81.3h0.7M306.5 75.2h0.7M311.8 114.7h0.7M323.2 83.8h0.7M319.6 95.6h0.7M336.6 94.2h0.7M327.2 114.5h0.7M323.8 97.9h0.7M318.8 85.3h0.7M322.0 91.4h0.7M319.3 87.6h0.7M314.7 91.6h0.7M316.9 95.4h0.7M326.4 105.5h0.7M325.3 105.5h0.7M327.4 114.3h0.7M316.4 92.0h0.7M314.8 107.8h0.7M326.2 84.3h0.7M329.1 73.5h0.7M319.4 102.5h0.7M319.8 98.4h0.7M328.7 97.4h0.7M312.1 103.8h0.7M319.4 93.9h0.7M316.0 69.1h0.7M311.0 86.1h0.7M328.5 72.8h0.7M314.8 100.8h0.7M314.5 102.9h0.7M316.6 97.1h0.7M320.9 92.0h0.7M306.8 67.7h0.7M316.1 100.8h0.7M321.3 100.0h0.7M327.3 67.2h0.7M322.1 89.1h0.7M317.8 77.9h0.7M314.4 74.9h0.7M332.5 92.2h0.7M325.5 75.8h0.7M319.8 75.4h0.7M318.3 75.5h0.7M309.9 88.2h0.7M317.2 78.5h0.7M313.6 76.6h0.7M308.3 96.5h0.7M311.6 89.3h0.7M320.8 101.3h0.7M328.4 82.8h0.7M311.0 88.9h0.7M322.2 80.4h0.7M309.7 98.0h0.7M321.6 88.3h0.7M309.7 113.8h0.7M321.7 84.1h0.7M323.3 102.6h0.7M325.7 101.6h0.7M323.1 72.5h0.7M317.0 94.1h0.7M317.3 74.5h0.7M306.8 96.1h0.7M320.3 82.3h0.7M317.1 77.3h0.7M314.6 90.4h0.7M315.4 103.2h0.7M319.1 94.2h0.7M323.1 113.1h0.7M324.5 95.8h0.7M318.9 78.6h0.7M317.6 103.3h0.7M321.8 85.6h0.7M310.4 66.6h0.7M322.5 109.0h0.7M322.8 69.2h0.7M318.5 95.7h0.7M313.4 97.7h0.7M318.6 78.2h0.7M311.0 105.4h0.7M322.7 77.3h0.7M312.7 106.7h0.7M324.5 87.0h0.7M331.7 87.2h0.7M312.4 110.1h0.7M318.7 97.7h0.7M320.4 75.4h0.7M311.4 88.8h0.7M330.4 75.4h0.7M330.0 95.6h0.7M312.0 96.4h0.7M324.2 77.1h0.7M304.5 97.9h0.7M312.0 99.3h0.7M306.1 89.7h0.7M314.2 67.5h0.7M318.3 94.8h0.7M316.0 72.5h0.7M324.0 100.1h0.7M332.3 106.6h0.7M322.7 96.4h0.7M320.3 70.1h0.7M330.8 100.7h0.7M318.0 73.1h0.7M330.9 100.8h0.7M311.5 103.1h0.7M333.9 91.6h0.7M323.0 85.1h0.7M315.5 109.7h0.7M319.2 105.1h0.7M317.9 104.0h0.7M326.1 75.2h0.7M312.3 90.8h0.7M326.2 96.6h0.7M329.1 69.3h0.7M323.7 81.7h0.7M320.8 97.3h0.7M313.0 88.2h0.7M311.6 96.4h0.7M313.9 83.9h0.7M321.7 81.2h0.7M328.5 81.5h0.7M326.3 96.7h0.7M312.6 88.4h0.7M314.0 86.0h0.7M323.4 70.5h0.7M303.3 103.2h0.7M305.6 103.8h0.7M327.6 98.4h0.7M318.6 87.9h0.7M322.0 87.0h0.7M316.2 85.9h0.7M328.6 81.8h0.7M322.9 73.0h0.7M314.9 69.4h0.7M318.7 103.2h0.7M322.3 83.9h0.7M324.5 86.3h0.7M322.8 96.5h0.7M310.6 104.7h0.7M318.4 82.9h0.7M330.9 101.1h0.7M333.9 100.4h0.7M318.6 103.9h0.7M314.4 84.7h0.7M316.1 88.3h0.7M325.8 84.1h0.7M322.4 83.8h0.7M318.6 94.8h0.7M312.3 108.7h0.7M321.7 113.1h0.7M327.1 102.5h0.7M319.0 74.1h0.7M318.5 84.4h0.7M321.9 84.4h0.7M328.6 84.3h0.7M318.3 107.2h0.7M320.1 72.1h0.7M323.1 88.8h0.7M305.2 95.3h0.7M312.5 79.8h0.7M323.6 96.9h0.7M323.1 81.9h0.7M321.8 90.0h0.7M304.1 66.1h0.7M318.8 87.5h0.7M316.0 108.1h0.7M319.3 98.2h0.7M317.0 89.2h0.7M307.6 82.5h0.7M313.2 81.3h0.7M328.9 96.3h0.7M329.0 106.1h0.7M326.8 108.5h0.7M315.7 105.2h0.7M317.8 83.3h0.7M326.1 78.1h0.7M322.1 98.1h0.7M322.8 86.2h0.7M310.8 92.5h0.7M326.3 104.9h0.7M324.9 110.1h0.7M312.9 91.3h0.7M322.6 108.4h0.7M321.2 100.5h0.7M304.3 91.6h0.7M306.9 94.2h0.7M309.7 80.9h0.7M323.4 102.9h0.7M327.5 95.3h0.7M313.9 90.4h0.7M322.5 87.5h0.7M315.3 86.1h0.7M309.3 75.2h0.7M319.4 86.1h0.7M320.4 115.0h0.7M322.3 91.5h0.7M311.6 74.4h0.7M322.8 77.7h0.7M323.2 74.4h0.7M321.1 90.8h0.7M327.3 85.6h0.7M317.4 96.0h0.7M318.2 83.2h0.7M317.8 99.8h0.7M321.8 103.3h0.7M333.4 91.5h0.7M311.4 94.5h0.7M320.2 67.8h0.7M323.4 114.6h0.7M327.6 67.4h0.7M330.1 106.8h0.7M317.5 100.2h0.7M331.1 86.6h0.7M320.0 82.9h0.7M330.3 76.2h0.7M313.3 82.2h0.7M324.5 81.6h0.7M329.1 86.9h0.7M323.6 89.2h0.7M333.0 86.1h0.7M320.7 103.2h0.7M314.8 95.3h0.7M303.7 93.7h0.7M315.4 67.4h0.7M309.9 110.7h0.7M323.2 67.2h0.7M333.2 80.6h0.7M317.4 96.0h0.7M314.7 111.3h0.7M327.0 66.2h0.7M328.8 92.6h0.7M323.7 92.8h0.7M323.1 75.6h0.7M313.5 80.5h0.7M317.4 102.1h0.7M315.5 82.4h0.7M325.2 99.1h0.7M317.7 74.5h0.7M328.4 109.7h0.7M333.6 100.2h0.7M322.5 104.4h0.7M327.0 87.8h0.7M307.9 69.0h0.7M313.1 104.3h0.7M328.7 86.5h0.7M324.9 91.2h0.7M322.3 83.2h0.7M319.9 91.9h0.7M307.0 100.7h0.7M320.1 107.8h0.7M327.8 104.8h0.7M325.9 76.5h0.7M328.8 76.4h0.7M329.4 102.9h0.7M313.0 111.1h0.7M315.2 79.8h0.7M308.9 88.5h0.7M327.5 81.0h0.7M333.4 103.3h0.7M316.2 72.2h0.7M308.3 101.1h0.7M329.5 74.6h0.7M320.1 87.5h0.7M318.2 100.2h0.7M335.2 81.6h0.7M326.2 109.8h0.7M318.0 89.6h0.7M310.4 109.7h0.7M316.3 81.3h0.7M320.6 77.9h0.7M312.6 87.1h0.7M330.8 88.6h0.7M323.9 68.0h0.7M317.2 66.8h0.7M319.3 102.0h0.7M307.6 77.5h0.7M322.0 76.9h0.7M325.9 107.8h0.7M323.3 85.0h0.7M319.8 81.6h0.7M319.2 97.2h0.7M317.9 108.0h0.7M322.6 105.5h0.7M324.8 88.1h0.7M316.6 108.5h0.7M324.6 100.3h0.7M314.3 102.4h0.7M325.9 89.0h0.7M306.5 102.0h0.7M311.6 69.6h0.7M318.4 101.0h0.7M320.5 72.9h0.7M309.7 82.9h0.7M320.2 78.4h0.7M314.0 89.4h0.7" stroke="#333" stroke-width="0.66" opacity="1" fill="none"/>
<path d="M304.8 67.0h0.7M279.0 50.5h0.7M304.5 53.1h0.7M296.2 51.9h0.7M294.7 67.1h0.7M291.5 69.1h0.7M305.3 65.2h0.7M300.3 65.7h0.7M279.8 67.5h0.7M306.9 53.9h0.7M291.2 50.3h0.7M311.6 58.8h0.7M285.7 51.6h0.7M305.9 55.6h0.7M301.0 65.8h0.7M308.8 65.3h0.7M292.7 67.8h0.7M301.8 65.1h0.7M284.8 67.6h0.7M288.3 66.7h0.7M285.3 49.7h0.7M306.2 65.0h0.7M307.3 63.5h0.7M292.6 51.8h0.7M303.3 66.2h0.7M304.0 53.3h0.7M288.2 68.7h0.7M305.5 65.8h0.7M278.5 52.1h0.7M292.8 69.0h0.7M284.3 52.9h0.7M302.0 54.2h0.7M293.1 50.6h0.7M288.7 67.3h0.7M277.5 51.6h0.7M313.5 60.3h0.7M304.7 63.7h0.7M305.7 55.1h0.7M296.0 48.6h0.7M292.0 68.2h0.7M277.3 68.8h0.7M284.4 51.8h0.7M297.8 67.5h0.7M289.9 51.8h0.7M290.8 50.0h0.7M310.3 58.5h0.7M291.0 52.7h0.7M301.2 66.7h0.7M280.8 67.6h0.7M298.6 67.7h0.7M277.2 50.6h0.7M304.8 66.1h0.7M286.1 48.8h0.7M300.7 52.4h0.7M305.4 52.3h0.7M311.3 58.0h0.7M287.8 50.1h0.7M277.4 67.2h0.7M312.5 58.2h0.7M282.7 50.9h0.7M292.2 51.5h0.7M281.8 66.1h0.7M274.9 69.0h0.7M306.8 52.6h0.7M286.7 51.4h0.7M308.2 63.8h0.7M289.2 67.4h0.7M279.6 50.9h0.7M280.1 53.0h0.7M282.8 68.9h0.7M292.0 53.7h0.7M307.0 55.4h0.7M285.7 52.5h0.7M307.1 62.4h0.7M311.5 57.7h0.7M278.3 51.9h0.7M301.4 65.6h0.7M303.0 64.6h0.7M287.9 50.5h0.7M280.4 54.9h0.7M292.3 52.5h0.7M288.2 67.2h0.7M280.6 53.5h0.7M291.5 68.5h0.7M295.4 51.0h0.7M303.1 65.7h0.7M281.6 69.2h0.7M276.5 51.4h0.7M277.0 67.6h0.7M291.5 69.6h0.7M284.2 49.1h0.7M284.0 68.6h0.7M310.9 61.2h0.7M304.0 63.7h0.7M282.7 52.0h0.7M298.7 52.1h0.7M297.9 68.3h0.7M289.9 68.6h0.7M303.7 66.9h0.7M285.4 51.2h0.7M305.1 54.4h0.7M287.6 68.2h0.7M304.1 55.7h0.7M284.7 49.4h0.7M294.4 68.3h0.7M283.8 50.0h0.7M311.7 61.1h0.7M304.9 62.5h0.7M297.6 65.4h0.7M288.3 68.3h0.7M301.7 65.6h0.7M286.1 71.2h0.7M309.8 56.2h0.7M299.0 52.9h0.7M279.9 52.5h0.7M304.8 65.1h0.7M290.2 68.5h0.7M297.5 52.9h0.7M277.0 54.2h0.7M280.6 70.3h0.7M295.0 67.0h0.7M313.6 62.6h0.7M299.9 51.6h0.7M312.2 61.4h0.7M311.2 60.2h0.7M278.1 69.8h0.7M300.7 66.7h0.7M291.9 53.6h0.7M276.0 53.7h0.7M276.4 69.3h0.7M299.8 65.0h0.7M295.3 69.0h0.7M277.0 51.1h0.7M297.8 51.2h0.7M307.0 62.6h0.7M299.7 67.3h0.7M281.5 51.7h0.7M287.6 52.1h0.7M277.2 67.5h0.7M294.1 68.7h0.7M298.4 53.1h0.7M310.1 56.7h0.7M279.4 70.3h0.7M277.9 51.1h0.7M287.4 67.1h0.7M298.5 51.9h0.7M283.7 70.0h0.7M307.8 63.2h0.7M289.4 53.1h0.7M305.1 53.4h0.7M293.5 51.4h0.7M289.0 70.7h0.7M304.4 53.2h0.7M292.4 69.4h0.7M313.2 61.5h0.7M291.5 69.4h0.7M294.4 69.0h0.7M292.2 52.0h0.7M301.8 65.9h0.7M278.1 49.9h0.7M295.4 51.5h0.7M282.8 51.8h0.7M283.6 52.3h0.7M289.4 52.5h0.7M285.6 51.8h0.7M313.1 57.8h0.7M281.2 53.4h0.7M311.8 60.7h0.7M288.7 70.4h0.7M312.5 61.7h0.7M286.2 69.2h0.7M297.8 51.1h0.7M298.1 68.2h0.7M301.4 54.0h0.7M306.6 55.9h0.7M312.7 59.1h0.7M302.9 65.8h0.7M311.8 57.1h0.7M292.7 51.3h0.7M304.5 67.3h0.7M279.3 66.3h0.7M305.3 53.6h0.7M291.7 49.9h0.7M281.8 51.8h0.7M310.3 57.5h0.7M293.3 66.7h0.7M307.2 55.1h0.7M279.4 69.7h0.7M314.6 60.0h0.7M275.1 67.7h0.7M289.9 72.7h0.7M311.4 60.5h0.7M300.5 53.0h0.7M303.0 66.5h0.7M288.3 51.3h0.7M306.5 65.6h0.7M309.8 62.1h0.7M296.8 53.2h0.7M288.1 52.3h0.7M308.8 63.3h0.7M295.0 52.6h0.7M308.8 58.8h0.7M304.2 64.0h0.7M298.1 51.3h0.7M279.7 51.4h0.7M276.2 52.8h0.7M278.5 67.5h0.7M313.3 59.6h0.7M302.6 65.8h0.7M294.2 50.1h0.7M293.6 66.7h0.7M292.9 52.4h0.7M310.0 64.6h0.7M296.1 52.5h0.7M312.3 60.6h0.7M295.3 67.0h0.7M301.7 66.2h0.7M311.5 57.1h0.7M304.7 68.2h0.7M292.7 69.5h0.7M278.8 69.5h0.7M278.8 67.9h0.7M295.6 69.0h0.7M294.7 68.8h0.7M292.6 51.6h0.7M285.2 51.9h0.7M279.1 50.3h0.7M307.8 64.7h0.7M310.3 58.0h0.7M276.2 51.3h0.7M306.7 53.6h0.7M287.5 67.4h0.7M299.8 66.9h0.7M293.9 69.1h0.7M287.9 67.3h0.7M284.6 68.4h0.7M274.5 51.5h0.7M297.4 51.8h0.7M289.2 51.2h0.7M293.7 53.0h0.7M276.6 68.3h0.7M281.0 68.4h0.7M301.4 52.7h0.7M307.5 56.0h0.7M280.1 52.0h0.7M281.3 50.3h0.7M297.0 49.9h0.7M302.1 53.1h0.7M280.5 68.4h0.7M287.2 50.3h0.7M298.4 69.3h0.7M292.5 69.2h0.7M290.2 49.4h0.7M292.2 68.9h0.7M301.8 65.9h0.7M290.4 51.0h0.7M304.6 66.1h0.7M307.0 55.8h0.7M277.4 51.1h0.7M297.7 50.7h0.7M306.7 64.2h0.7M300.0 51.6h0.7M288.2 53.2h0.7M288.6 65.8h0.7M291.5 69.3h0.7M299.2 68.0h0.7M283.6 51.9h0.7M289.5 50.4h0.7M311.5 58.6h0.7M312.7 60.1h0.7M296.3 67.0h0.7M284.7 51.9h0.7M312.7 60.7h0.7M292.7 52.4h0.7M298.6 66.2h0.7M312.6 56.2h0.7M306.7 65.5h0.7M304.3 65.6h0.7M277.0 68.0h0.7M310.9 57.6h0.7M280.6 49.7h0.7M310.6 57.4h0.7M283.1 51.4h0.7M298.7 51.4h0.7M284.3 51.7h0.7M312.3 60.7h0.7M289.4 50.1h0.7M303.2 53.5h0.7M278.0 68.9h0.7M298.1 66.4h0.7M313.5 58.2h0.7M296.9 52.4h0.7M297.3 68.2h0.7M280.0 69.7h0.7M302.6 53.8h0.7M312.4 58.4h0.7M286.6 69.3h0.7M295.5 68.5h0.7M309.4 53.9h0.7M310.9 63.4h0.7M308.9 62.8h0.7M302.9 50.9h0.7M296.1 52.4h0.7M303.3 53.8h0.7M294.6 50.7h0.7M305.8 64.1h0.7M296.8 50.3h0.7M275.5 66.4h0.7M290.3 70.1h0.7M306.0 54.0h0.7M310.4 63.4h0.7M304.3 51.4h0.7M286.6 70.8h0.7M295.2 66.5h0.7M279.9 50.7h0.7M309.9 59.4h0.7M293.4 67.8h0.7M302.8 53.5h0.7M303.7 52.9h0.7M294.0 51.5h0.7M296.6 69.0h0.7M308.1 52.6h0.7M298.8 50.6h0.7M313.3 57.4h0.7M301.5 51.3h0.7M281.9 50.3h0.7M311.8 60.8h0.7M284.4 68.1h0.7M302.5 55.9h0.7M301.5 68.6h0.7M276.9 51.2h0.7M297.6 67.6h0.7M313.4 59.2h0.7M304.3 55.4h0.7M291.7 70.7h0.7M274.6 68.7h0.7M299.3 66.9h0.7M298.8 53.7h0.7M289.1 50.9h0.7M303.7 68.5h0.7M273.2 67.5h0.7M291.2 50.6h0.7M295.4 67.4h0.7M281.3 68.8h0.7M315.9 58.6h0.7M276.1 68.2h0.7M311.0 63.8h0.7M289.8 69.1h0.7M296.1 52.7h0.7M312.8 60.6h0.7M274.5 53.4h0.7M295.7 68.9h0.7M313.7 62.0h0.7M283.3 70.1h0.7M297.8 65.7h0.7M298.3 69.3h0.7M283.6 69.4h0.7M310.4 57.3h0.7M291.4 67.9h0.7M308.7 55.0h0.7M302.5 52.0h0.7M291.9 52.3h0.7M305.6 65.3h0.7M293.6 51.7h0.7M300.1 52.4h0.7M309.7 60.0h0.7M314.1 58.8h0.7M290.7 51.0h0.7M290.4 52.1h0.7M276.9 68.9h0.7M307.9 57.6h0.7M307.8 56.7h0.7M311.3 63.2h0.7M296.3 68.8h0.7M280.6 69.3h0.7M297.9 51.6h0.7M297.3 67.6h0.7M305.8 52.3h0.7M307.5 62.9h0.7M278.5 68.1h0.7M291.7 52.9h0.7M292.3 68.6h0.7M311.4 58.9h0.7M282.8 69.8h0.7M280.0 67.6h0.7M301.0 53.7h0.7M292.5 69.4h0.7M304.6 56.6h0.7M311.3 62.6h0.7M290.5 69.9h0.7M276.9 52.2h0.7M291.4 69.1h0.7M279.6 53.5h0.7M300.1 66.0h0.7M311.1 62.0h0.7M280.5 68.9h0.7M296.3 67.2h0.7M283.9 50.1h0.7M307.7 64.0h0.7M279.8 51.8h0.7M298.4 66.8h0.7M288.9 52.7h0.7M302.7 66.2h0.7M275.7 68.7h0.7M296.1 54.4h0.7M275.2 67.6h0.7M290.4 52.1h0.7M297.8 68.3h0.7M302.1 66.8h0.7M291.1 67.8h0.7M283.9 68.2h0.7M308.9 54.3h0.7M281.4 68.4h0.7M288.1 52.4h0.7M276.0 50.1h0.7M315.1 60.6h0.7M307.5 54.5h0.7M294.9 69.1h0.7M280.0 67.8h0.7M300.3 53.0h0.7" stroke="#111" stroke-width="0.72" opacity="1" fill="none"/>
<path d="M317.4 53.7h0.7M316.1 58.5h0.7M323.3 62.5h0.7M319.5 68.3h0.7M320.0 72.2h0.7M324.2 54.4h0.7M324.6 55.9h0.7M315.9 55.0h0.7M319.5 55.8h0.7M322.9 56.5h0.7M314.0 57.5h0.7M324.8 59.5h0.7M320.9 55.8h0.7M325.7 58.9h0.7M324.2 63.9h0.7M318.3 53.2h0.7M314.0 57.7h0.7M313.2 58.8h0.7M322.7 70.9h0.7M324.2 57.0h0.7M317.5 52.3h0.7M323.1 56.0h0.7M325.4 60.7h0.7M323.0 70.7h0.7M317.8 56.4h0.7M321.0 67.6h0.7M323.2 64.0h0.7M324.3 56.5h0.7M324.5 58.7h0.7M326.2 57.4h0.7M313.6 62.5h0.7M327.5 59.0h0.7M319.1 51.7h0.7M319.2 68.5h0.7M324.7 54.6h0.7M316.6 62.7h0.7M323.0 66.7h0.7M318.4 56.6h0.7M317.4 69.3h0.7M322.7 57.3h0.7M323.7 62.8h0.7M313.7 60.3h0.7M314.2 58.6h0.7M320.2 54.3h0.7M317.6 54.5h0.7M324.1 63.4h0.7M323.3 58.3h0.7M319.8 67.9h0.7M323.5 64.5h0.7M319.2 68.1h0.7M321.2 64.3h0.7M319.0 56.7h0.7M323.3 54.7h0.7M325.6 59.4h0.7M313.9 56.5h0.7M319.3 54.8h0.7M316.1 62.5h0.7M322.5 67.6h0.7M319.3 68.3h0.7M314.9 54.6h0.7M320.4 53.6h0.7M316.9 59.9h0.7M325.8 60.6h0.7M324.3 63.3h0.7M318.2 63.9h0.7M320.7 54.3h0.7M325.3 62.6h0.7M320.8 63.2h0.7M318.4 51.4h0.7M324.6 56.4h0.7M322.8 64.3h0.7M324.6 57.8h0.7M318.3 66.7h0.7M318.4 68.8h0.7M321.3 67.1h0.7M320.8 54.8h0.7M314.5 63.1h0.7M326.6 61.4h0.7M320.4 67.7h0.7M325.0 58.0h0.7M318.9 68.9h0.7M318.3 67.0h0.7M322.1 55.7h0.7M316.6 65.3h0.7M320.2 69.2h0.7M324.3 58.7h0.7M316.7 54.3h0.7M325.6 58.2h0.7M314.7 57.1h0.7M319.5 66.2h0.7M324.3 65.2h0.7M314.8 62.3h0.7M315.3 64.7h0.7M322.7 55.5h0.7M325.4 60.5h0.7M321.1 51.9h0.7M322.5 65.8h0.7M324.6 61.1h0.7M321.8 68.3h0.7M320.7 69.3h0.7M321.5 55.8h0.7M325.2 57.8h0.7M313.2 61.7h0.7M313.4 58.9h0.7M322.0 70.8h0.7M313.2 61.5h0.7M320.7 51.8h0.7M323.2 56.6h0.7M317.9 66.5h0.7M314.9 64.5h0.7M325.7 61.8h0.7M321.5 53.6h0.7M315.2 56.6h0.7M315.7 56.2h0.7M321.4 65.6h0.7M319.6 55.8h0.7M318.6 54.9h0.7M314.6 58.6h0.7M317.1 51.2h0.7M318.5 69.8h0.7M320.1 70.5h0.7M318.7 69.1h0.7M323.0 61.9h0.7M321.1 66.8h0.7M318.1 71.5h0.7M316.2 61.4h0.7M326.6 60.3h0.7M321.2 66.6h0.7M316.4 61.4h0.7M315.5 63.1h0.7M321.6 65.9h0.7M314.4 60.1h0.7M326.1 58.7h0.7M315.5 62.4h0.7M325.6 62.2h0.7M322.2 53.2h0.7M319.0 63.5h0.7M325.6 60.7h0.7M313.4 58.1h0.7M321.5 66.6h0.7M317.6 61.1h0.7M314.6 57.4h0.7M324.1 63.1h0.7M324.2 60.4h0.7M314.1 59.5h0.7M315.7 56.5h0.7M313.5 60.7h0.7M315.7 56.2h0.7M318.1 67.3h0.7M321.3 66.2h0.7M321.7 64.2h0.7M316.1 63.1h0.7M319.7 51.6h0.7M324.7 64.8h0.7M317.2 57.1h0.7M317.9 68.3h0.7M322.0 62.4h0.7M320.1 70.1h0.7M322.4 63.7h0.7M319.4 58.1h0.7M326.1 59.9h0.7M317.9 67.6h0.7M313.9 58.6h0.7M310.4 60.6h0.7M320.9 54.8h0.7M318.6 63.4h0.7M316.4 70.6h0.7M322.9 58.0h0.7M322.1 68.4h0.7M321.6 69.5h0.7M323.7 56.2h0.7M320.5 68.0h0.7M312.6 62.5h0.7M323.7 58.1h0.7M322.2 64.7h0.7M315.4 57.5h0.7M317.3 65.7h0.7M323.5 55.0h0.7M322.6 55.1h0.7M321.8 65.8h0.7M320.0 65.6h0.7M321.4 65.3h0.7M316.5 63.2h0.7M321.7 68.9h0.7M322.2 68.2h0.7M315.9 61.9h0.7M317.8 52.1h0.7M319.3 69.6h0.7M324.1 56.8h0.7M324.6 60.8h0.7M318.8 67.5h0.7M322.7 63.1h0.7M320.2 69.1h0.7M322.8 61.7h0.7M318.5 64.5h0.7M324.0 60.8h0.7M318.1 67.2h0.7M323.8 68.4h0.7M318.7 65.7h0.7M323.8 52.2h0.7" stroke="#111" stroke-width="0.72" opacity="1" fill="none"/>
<path d="M312.8 104.5h0.7M314.5 75.1h0.7M318.7 68.9h0.7M312.9 105.9h0.7M314.2 111.2h0.7M312.1 83.6h0.7M318.4 72.8h0.7M316.2 75.1h0.7M313.9 79.4h0.7M314.8 109.1h0.7M312.8 108.2h0.7M313.2 105.5h0.7M317.9 72.6h0.7M312.7 96.2h0.7M310.9 101.4h0.7M312.3 91.9h0.7M311.6 78.6h0.7M311.7 78.1h0.7M312.9 80.8h0.7M309.7 84.8h0.7M317.6 68.3h0.7M313.1 110.1h0.7M310.8 82.2h0.7M310.5 86.6h0.7M312.4 111.8h0.7M313.8 106.9h0.7M311.2 83.7h0.7M310.9 79.5h0.7M310.4 84.9h0.7M313.4 88.3h0.7M312.7 78.2h0.7M311.8 95.8h0.7M312.6 106.9h0.7M312.3 103.2h0.7M310.0 85.7h0.7M314.4 77.5h0.7M312.1 92.4h0.7M313.0 109.4h0.7M313.0 76.2h0.7M310.3 89.8h0.7M311.7 91.3h0.7M313.8 112.4h0.7M311.9 103.6h0.7M312.7 76.8h0.7M313.2 103.7h0.7M311.6 99.4h0.7M315.9 70.6h0.7M312.9 74.9h0.7M317.6 71.7h0.7M317.2 71.8h0.7M313.1 80.1h0.7M311.6 80.5h0.7M311.5 83.3h0.7M316.0 74.2h0.7M312.6 84.1h0.7M314.0 104.8h0.7M317.5 69.5h0.7M313.0 112.8h0.7M318.2 71.9h0.7M309.5 89.2h0.7M312.7 107.4h0.7M312.1 86.0h0.7M311.4 98.6h0.7M312.1 96.4h0.7M314.5 109.5h0.7M313.8 109.7h0.7M310.9 95.8h0.7M312.1 90.5h0.7M312.8 100.8h0.7M311.5 96.8h0.7M316.7 70.4h0.7M311.8 96.5h0.7M312.2 101.5h0.7M309.5 81.3h0.7M315.8 73.7h0.7M315.6 112.7h0.7M311.6 86.0h0.7M311.0 91.7h0.7M310.7 95.3h0.7M310.4 85.9h0.7M311.9 108.6h0.7M312.0 80.8h0.7M311.9 88.3h0.7M311.4 87.5h0.7M313.5 75.3h0.7M314.5 112.0h0.7M311.7 94.4h0.7M312.2 88.1h0.7M312.0 95.0h0.7M314.5 112.4h0.7M314.1 101.8h0.7M315.3 74.6h0.7M314.8 75.9h0.7M317.1 74.5h0.7M315.7 73.8h0.7M312.1 81.5h0.7M317.3 70.6h0.7M312.5 113.7h0.7M313.8 109.1h0.7M311.2 99.7h0.7M311.0 80.6h0.7M311.0 89.7h0.7M311.3 83.2h0.7M317.1 71.7h0.7M313.3 79.1h0.7M311.3 90.4h0.7M311.9 86.5h0.7M316.7 112.4h0.7M313.7 114.9h0.7M313.4 100.5h0.7M313.0 97.0h0.7M317.2 72.1h0.7M311.4 79.2h0.7M311.3 89.0h0.7M313.6 99.8h0.7M312.4 98.2h0.7M314.5 76.6h0.7M310.0 88.9h0.7M312.4 102.0h0.7M311.2 94.6h0.7M315.8 112.6h0.7M312.0 77.0h0.7M315.0 110.5h0.7M312.2 78.8h0.7M310.0 83.7h0.7M314.4 106.4h0.7M314.9 77.3h0.7M312.4 78.0h0.7M314.4 74.7h0.7M312.4 110.1h0.7M311.4 82.9h0.7M316.8 70.0h0.7M318.5 68.7h0.7M318.8 68.8h0.7M312.5 79.5h0.7M311.7 100.7h0.7M311.4 82.0h0.7M313.5 84.9h0.7M315.7 74.3h0.7M313.6 99.8h0.7M312.1 93.1h0.7M311.7 94.4h0.7M313.0 75.4h0.7M312.1 103.7h0.7M314.3 110.3h0.7M312.2 82.4h0.7M315.4 75.2h0.7M312.7 110.8h0.7M314.0 111.2h0.7M311.5 88.4h0.7M314.6 72.5h0.7M311.1 76.9h0.7M316.4 75.6h0.7M314.9 82.0h0.7M311.8 87.1h0.7M314.7 76.1h0.7M316.6 72.6h0.7M309.0 91.9h0.7M312.4 85.5h0.7M312.2 96.4h0.7M310.2 91.9h0.7M310.9 93.0h0.7M318.1 69.8h0.7M312.2 86.0h0.7M314.7 112.5h0.7M313.2 95.3h0.7M311.6 79.5h0.7M310.8 94.3h0.7M312.7 87.8h0.7M312.8 105.5h0.7M314.5 93.6h0.7M315.4 104.4h0.7M312.2 101.8h0.7M314.1 106.5h0.7M311.3 95.7h0.7M312.4 103.2h0.7M313.1 92.7h0.7M310.4 109.9h0.7M316.1 70.7h0.7M314.6 101.9h0.7M310.5 89.2h0.7M313.1 101.1h0.7M311.6 82.3h0.7M314.9 105.6h0.7M313.4 106.9h0.7M311.9 76.8h0.7M311.5 97.7h0.7M314.4 110.5h0.7M310.9 79.0h0.7M311.3 83.1h0.7M312.3 91.5h0.7M317.5 71.2h0.7M314.9 114.3h0.7M308.7 85.5h0.7M316.7 72.6h0.7M314.7 76.5h0.7M313.5 96.6h0.7M312.9 93.3h0.7M313.9 109.5h0.7M313.3 106.3h0.7M313.8 108.6h0.7M313.4 102.5h0.7M314.4 107.3h0.7M314.3 107.0h0.7M311.8 98.1h0.7M311.8 95.4h0.7M313.3 95.1h0.7M313.7 111.9h0.7M314.1 101.0h0.7M313.0 104.6h0.7M311.9 79.5h0.7M313.6 107.0h0.7M311.5 83.5h0.7M316.9 71.9h0.7M313.4 99.8h0.7M313.4 98.3h0.7M312.4 89.0h0.7M312.6 77.1h0.7M311.5 104.7h0.7M314.8 75.2h0.7M311.6 80.0h0.7M310.8 85.1h0.7M311.3 98.1h0.7M314.9 111.2h0.7M312.5 93.8h0.7M313.0 80.5h0.7M313.8 105.3h0.7M314.3 107.0h0.7M314.4 73.0h0.7M313.2 110.9h0.7M311.3 93.2h0.7M313.6 88.4h0.7M310.8 112.3h0.7M316.6 74.2h0.7M310.5 111.1h0.7M318.8 68.4h0.7M311.5 84.5h0.7M311.9 103.7h0.7M313.8 75.3h0.7M317.4 73.0h0.7M309.8 86.0h0.7M315.1 109.6h0.7M311.4 85.0h0.7M310.5 91.6h0.7M312.5 89.7h0.7M310.9 95.4h0.7M311.5 80.5h0.7M312.8 88.5h0.7M313.5 77.6h0.7M311.5 81.4h0.7M312.4 77.4h0.7M311.4 93.0h0.7M316.1 70.5h0.7M313.0 84.4h0.7M312.8 82.3h0.7M312.6 99.1h0.7M313.3 91.1h0.7M312.1 98.6h0.7M312.5 79.1h0.7M311.6 107.1h0.7M311.6 82.4h0.7M311.4 99.6h0.7M315.1 76.5h0.7M311.4 92.5h0.7M311.4 85.5h0.7M315.6 70.4h0.7M313.0 104.0h0.7M311.9 77.5h0.7M311.9 103.6h0.7M313.3 91.7h0.7M311.3 85.4h0.7M315.0 109.8h0.7M311.3 84.9h0.7M313.1 76.0h0.7M312.8 103.7h0.7M313.4 105.7h0.7M317.9 70.7h0.7M312.3 103.1h0.7M312.7 101.8h0.7M310.2 91.9h0.7M312.8 78.0h0.7M315.4 74.9h0.7M312.9 96.7h0.7M315.9 73.5h0.7M316.5 74.8h0.7M313.8 78.4h0.7M311.7 79.1h0.7M311.8 97.1h0.7M314.9 113.5h0.7M311.7 83.8h0.7M315.8 110.9h0.7M313.9 82.3h0.7M311.9 80.9h0.7M311.6 85.3h0.7M310.9 78.7h0.7M309.5 81.5h0.7M311.6 104.2h0.7M312.0 104.9h0.7M312.8 84.8h0.7M314.4 98.0h0.7M315.3 110.4h0.7M310.0 78.2h0.7M309.3 84.0h0.7M312.5 76.0h0.7M317.3 71.5h0.7M314.1 75.2h0.7M314.6 106.4h0.7M314.1 109.3h0.7M310.5 104.6h0.7M308.8 85.2h0.7M313.4 83.2h0.7M310.5 76.4h0.7M317.0 72.6h0.7M312.7 103.0h0.7M315.5 114.7h0.7M312.3 103.7h0.7M311.2 86.6h0.7M312.2 113.6h0.7M311.8 89.0h0.7M313.1 93.7h0.7M317.9 71.3h0.7M314.0 87.2h0.7M315.4 114.3h0.7M312.9 102.1h0.7M312.3 112.4h0.7M313.3 106.8h0.7M313.7 112.1h0.7M317.1 74.8h0.7M314.2 79.5h0.7M312.1 98.9h0.7M311.3 87.0h0.7M315.0 88.8h0.7M318.4 73.1h0.7M314.7 102.9h0.7M310.9 91.0h0.7M311.8 91.3h0.7M312.8 109.9h0.7M310.5 79.1h0.7M313.0 93.8h0.7M312.4 91.8h0.7M317.3 70.6h0.7M315.4 74.6h0.7M311.4 111.9h0.7M312.6 98.9h0.7M311.4 80.9h0.7M310.2 92.8h0.7M313.0 77.8h0.7M313.9 105.9h0.7M314.2 78.7h0.7M311.9 101.5h0.7M309.2 91.1h0.7M311.6 97.2h0.7M311.6 89.5h0.7M314.4 75.2h0.7M310.3 87.6h0.7M310.2 86.5h0.7M314.1 114.2h0.7M312.0 102.7h0.7M311.6 96.4h0.7M319.7 67.8h0.7M310.7 81.2h0.7M318.8 70.3h0.7M312.1 80.6h0.7M312.2 105.8h0.7M312.9 76.3h0.7M314.7 109.6h0.7M313.7 113.5h0.7M316.6 75.9h0.7M317.6 70.6h0.7M313.5 88.3h0.7M313.5 97.8h0.7M311.3 90.1h0.7M313.6 103.0h0.7M310.2 83.2h0.7M311.6 87.7h0.7M311.6 104.3h0.7M313.1 114.5h0.7M314.7 74.8h0.7M312.3 98.2h0.7M315.0 74.2h0.7M309.6 80.2h0.7M311.6 93.6h0.7M311.9 79.8h0.7M309.6 80.8h0.7M314.5 76.5h0.7M312.1 78.6h0.7M312.1 104.6h0.7M311.5 83.8h0.7M312.0 87.3h0.7M312.2 114.1h0.7M311.0 86.1h0.7M312.5 111.3h0.7M310.6 89.3h0.7M313.0 77.8h0.7M313.6 93.4h0.7M312.1 88.4h0.7M313.3 76.3h0.7M311.2 83.9h0.7M310.6 82.4h0.7M312.5 103.0h0.7M312.8 98.9h0.7M314.2 77.3h0.7M312.3 106.2h0.7M314.0 78.7h0.7M314.2 84.5h0.7M312.3 79.1h0.7M311.0 100.6h0.7M312.2 81.9h0.7M314.9 105.8h0.7M312.5 101.0h0.7M317.0 73.0h0.7M311.8 97.3h0.7M312.1 87.8h0.7M313.1 74.7h0.7M312.6 93.9h0.7M316.4 74.7h0.7M310.2 92.2h0.7M314.0 101.4h0.7M317.5 70.7h0.7M312.3 83.7h0.7M313.9 105.6h0.7M313.3 107.8h0.7M313.1 99.2h0.7M314.0 74.7h0.7M315.9 75.8h0.7M314.4 75.5h0.7M310.2 95.0h0.7M315.4 75.4h0.7M315.2 108.0h0.7M312.1 91.6h0.7M315.8 74.7h0.7M313.0 110.5h0.7M313.2 94.2h0.7M313.9 103.3h0.7M312.5 84.0h0.7M312.1 101.4h0.7M315.3 74.4h0.7M312.8 107.2h0.7M311.5 89.6h0.7M310.6 83.1h0.7M313.6 107.3h0.7M310.7 87.0h0.7M313.1 106.3h0.7M313.6 76.9h0.7M311.9 106.0h0.7M310.5 94.0h0.7M317.1 72.9h0.7M314.4 73.5h0.7M312.4 103.6h0.7M318.0 71.4h0.7M314.0 105.9h0.7M314.0 105.5h0.7M313.6 109.5h0.7M311.0 93.1h0.7M312.8 104.1h0.7M311.0 102.6h0.7M312.3 83.5h0.7M309.4 88.1h0.7M311.8 92.7h0.7M313.3 109.2h0.7M314.1 109.0h0.7M313.4 100.6h0.7M313.8 114.9h0.7M317.0 75.1h0.7M311.2 83.9h0.7M318.6 71.4h0.7M311.0 94.5h0.7M310.4 98.8h0.7M313.5 111.2h0.7M317.6 73.2h0.7M312.6 76.1h0.7M314.2 107.3h0.7M313.3 78.1h0.7M316.2 71.4h0.7M311.2 99.1h0.7M311.3 79.9h0.7M311.7 101.9h0.7M312.9 81.3h0.7M313.2 99.0h0.7M314.8 107.9h0.7" stroke="#111" stroke-width="0.72" opacity="1" fill="none"/>
<path d="M329.0 92.5h0.7M328.9 79.6h0.7M330.8 87.8h0.7M328.5 98.4h0.7M328.7 103.3h0.7M329.2 86.4h0.7M328.5 85.8h0.7M323.8 72.5h0.7M318.8 68.4h0.7M329.9 103.6h0.7M326.1 102.2h0.7M331.6 86.2h0.7M324.3 76.4h0.7M326.1 104.2h0.7M326.6 102.3h0.7M326.9 110.6h0.7M328.4 82.1h0.7M328.5 111.7h0.7M329.3 90.2h0.7M322.2 72.1h0.7M330.6 90.0h0.7M329.7 81.9h0.7M329.4 87.6h0.7M326.5 75.1h0.7M330.6 89.6h0.7M328.8 95.2h0.7M329.0 86.7h0.7M326.4 110.4h0.7M327.9 100.9h0.7M324.3 74.2h0.7M327.3 78.2h0.7M325.5 114.9h0.7M329.8 86.8h0.7M326.3 111.3h0.7M323.9 105.9h0.7M327.0 100.9h0.7M325.3 108.6h0.7M327.7 99.0h0.7M325.7 109.6h0.7M324.8 73.8h0.7M328.6 83.3h0.7M329.2 84.4h0.7M327.9 91.0h0.7M328.7 96.0h0.7M331.9 86.4h0.7M328.5 89.1h0.7M329.2 83.9h0.7M330.0 81.9h0.7M321.3 72.4h0.7M325.1 75.6h0.7M322.8 70.1h0.7M328.5 90.7h0.7M323.0 72.1h0.7M327.6 112.3h0.7M324.7 113.9h0.7M327.7 104.7h0.7M321.4 72.0h0.7M328.7 91.1h0.7M323.9 74.1h0.7M325.7 99.6h0.7M326.8 109.0h0.7M327.7 90.5h0.7M324.0 68.2h0.7M328.2 79.1h0.7M327.2 112.3h0.7M328.9 85.6h0.7M323.0 72.5h0.7M327.4 99.2h0.7M323.8 68.8h0.7M329.2 78.3h0.7M327.5 77.4h0.7M327.7 109.2h0.7M329.0 92.6h0.7M326.6 109.7h0.7M320.3 70.8h0.7M324.0 75.3h0.7M330.6 76.6h0.7M326.5 110.7h0.7M325.7 102.5h0.7M325.9 112.8h0.7M319.9 69.2h0.7M328.9 89.1h0.7M328.1 93.6h0.7M323.3 76.0h0.7M327.3 79.1h0.7M329.4 88.1h0.7M327.7 100.6h0.7M328.4 79.0h0.7M326.6 103.3h0.7M329.4 86.8h0.7M327.9 96.9h0.7M323.0 72.7h0.7M326.7 108.5h0.7M326.0 114.0h0.7M329.9 91.2h0.7M327.5 83.4h0.7M331.0 97.6h0.7M327.7 77.7h0.7M326.7 104.1h0.7M326.1 114.5h0.7M326.6 103.4h0.7M326.6 100.2h0.7M329.7 99.9h0.7M328.3 79.6h0.7M328.1 103.4h0.7M328.0 103.3h0.7M325.2 109.5h0.7M326.0 111.2h0.7M327.9 81.5h0.7M328.1 97.2h0.7M327.4 73.8h0.7M326.6 111.1h0.7M328.4 100.8h0.7M327.0 75.3h0.7M322.8 73.3h0.7M329.1 83.8h0.7M326.8 109.9h0.7M326.4 110.5h0.7M327.0 84.1h0.7M328.6 80.3h0.7M326.8 107.9h0.7M325.1 113.7h0.7M329.9 84.0h0.7M328.8 86.6h0.7M325.1 110.3h0.7M326.6 110.7h0.7M328.0 86.6h0.7M321.8 72.1h0.7M330.7 86.3h0.7M326.2 77.7h0.7M332.2 83.6h0.7M328.4 80.0h0.7M328.5 96.1h0.7M326.7 103.4h0.7M327.7 92.9h0.7M323.9 69.4h0.7M326.5 101.4h0.7M321.8 72.0h0.7M324.9 114.5h0.7M328.5 101.3h0.7M327.0 113.2h0.7M326.3 98.5h0.7M328.1 96.7h0.7M329.8 88.1h0.7M326.9 100.1h0.7M328.7 91.4h0.7M327.0 110.1h0.7M325.8 98.0h0.7M325.7 92.7h0.7M327.5 83.0h0.7M330.4 99.8h0.7M328.5 89.3h0.7M327.1 80.4h0.7M328.2 101.1h0.7M327.8 101.5h0.7M324.0 102.5h0.7M327.1 111.8h0.7M324.7 112.9h0.7M328.8 80.3h0.7M322.7 75.5h0.7M329.5 91.7h0.7M327.9 104.0h0.7M329.4 87.0h0.7M328.0 92.2h0.7M328.8 101.8h0.7M326.9 89.3h0.7M322.3 70.8h0.7M325.0 75.2h0.7M325.2 108.7h0.7M327.8 93.2h0.7M327.6 80.3h0.7M328.3 74.8h0.7M322.9 70.1h0.7M328.3 95.5h0.7M324.4 74.3h0.7M323.2 69.6h0.7M325.2 110.8h0.7M327.9 78.4h0.7M323.5 69.8h0.7M326.5 109.7h0.7M323.5 74.6h0.7M327.5 104.5h0.7M324.1 113.8h0.7M327.7 97.9h0.7M328.2 90.2h0.7M328.1 87.6h0.7M325.8 75.4h0.7M327.4 110.6h0.7M332.2 83.9h0.7M326.3 76.1h0.7M324.4 79.1h0.7M329.7 86.9h0.7M325.4 108.1h0.7M325.2 75.0h0.7M322.1 71.1h0.7M326.3 75.9h0.7M322.3 73.0h0.7M325.0 114.2h0.7M327.4 78.0h0.7M326.7 104.2h0.7M326.6 112.3h0.7M327.0 91.2h0.7M329.1 88.7h0.7M324.3 75.9h0.7M330.6 87.2h0.7M326.0 106.1h0.7M328.5 92.2h0.7M328.1 92.2h0.7M324.8 76.6h0.7M327.2 102.8h0.7M329.1 91.5h0.7M328.1 91.9h0.7M328.0 74.1h0.7M328.6 104.1h0.7M327.4 112.9h0.7M326.0 99.7h0.7M325.4 109.2h0.7M328.5 82.1h0.7M327.0 105.2h0.7M326.9 83.2h0.7M330.0 87.9h0.7M328.5 91.5h0.7M322.8 71.8h0.7M328.2 99.8h0.7M326.1 91.1h0.7M328.3 78.6h0.7M327.4 80.4h0.7M329.9 91.4h0.7M325.6 75.5h0.7M327.8 108.6h0.7M326.1 104.9h0.7M323.6 73.0h0.7M324.5 111.7h0.7M329.1 100.7h0.7M329.1 81.2h0.7M330.4 87.9h0.7M325.7 75.2h0.7M326.5 107.2h0.7M330.1 93.4h0.7M330.9 82.9h0.7M327.5 110.8h0.7M322.4 71.9h0.7M330.2 84.2h0.7M329.9 88.5h0.7M326.6 98.0h0.7M328.3 94.3h0.7M328.7 81.4h0.7M328.4 91.6h0.7M328.1 102.1h0.7M327.8 78.4h0.7M330.0 90.4h0.7M325.9 111.6h0.7M327.9 90.8h0.7M326.7 106.0h0.7M328.3 99.2h0.7M328.4 89.3h0.7M327.7 96.7h0.7M331.4 99.3h0.7M323.1 72.5h0.7M324.7 77.1h0.7M327.8 82.6h0.7M327.9 101.2h0.7M328.6 78.0h0.7M327.8 95.8h0.7M324.0 73.1h0.7M329.2 88.6h0.7M327.2 96.7h0.7M328.6 92.1h0.7M327.6 85.1h0.7M324.5 73.2h0.7M329.6 91.1h0.7M323.6 111.8h0.7M327.5 79.1h0.7M325.1 72.8h0.7M327.7 76.2h0.7M328.4 84.8h0.7M326.9 85.5h0.7M323.7 73.8h0.7M326.8 76.4h0.7M328.7 113.0h0.7M324.7 98.3h0.7M326.6 105.7h0.7M328.9 87.5h0.7M330.2 78.1h0.7M329.1 76.7h0.7M329.8 87.0h0.7M328.9 84.2h0.7M326.6 101.0h0.7M326.7 81.2h0.7M327.4 113.0h0.7M327.5 111.4h0.7M328.8 95.4h0.7M328.0 85.2h0.7M322.2 72.3h0.7M329.0 92.7h0.7M329.1 89.6h0.7M327.0 112.4h0.7M325.8 74.5h0.7M326.7 109.6h0.7M327.1 79.2h0.7M327.1 95.8h0.7M322.8 71.7h0.7M327.8 90.2h0.7M325.9 112.6h0.7M322.7 73.4h0.7M326.6 99.8h0.7M327.5 83.8h0.7M325.9 101.7h0.7M327.9 79.5h0.7M327.0 111.7h0.7M327.6 108.1h0.7M328.3 98.4h0.7M327.4 104.1h0.7M328.2 81.9h0.7M326.1 75.5h0.7M328.4 84.8h0.7M324.7 113.1h0.7M327.5 96.9h0.7M328.6 77.1h0.7M327.0 97.3h0.7M328.2 106.5h0.7M331.6 89.9h0.7M326.6 73.6h0.7M323.3 73.3h0.7M327.7 94.5h0.7M328.8 89.4h0.7M322.6 73.4h0.7M326.5 100.7h0.7M326.4 77.5h0.7M328.7 88.9h0.7M326.5 91.5h0.7M327.3 106.5h0.7M327.1 78.5h0.7M327.9 114.8h0.7M329.7 92.1h0.7M321.7 72.6h0.7M327.8 95.0h0.7M323.3 73.5h0.7M328.3 104.1h0.7M324.5 76.6h0.7M329.0 88.9h0.7M329.1 81.0h0.7M326.9 114.8h0.7M326.5 81.4h0.7M329.0 83.3h0.7M320.2 71.0h0.7M327.0 112.3h0.7M326.6 105.2h0.7M329.4 88.9h0.7M326.2 105.5h0.7M329.5 80.6h0.7M327.0 83.7h0.7M326.3 74.5h0.7M329.7 101.1h0.7M321.5 73.0h0.7M330.1 80.7h0.7M326.8 94.6h0.7M326.9 83.0h0.7M327.6 114.1h0.7M326.8 110.3h0.7M324.4 74.7h0.7M327.7 77.8h0.7M326.4 85.5h0.7M327.5 90.5h0.7M327.9 94.9h0.7M330.6 81.0h0.7M328.5 89.5h0.7M324.2 110.4h0.7M325.6 76.4h0.7M324.5 77.0h0.7M326.2 107.6h0.7M327.5 80.5h0.7M323.8 75.4h0.7M325.2 104.8h0.7M327.1 96.7h0.7M327.2 114.7h0.7M329.6 88.7h0.7M326.6 113.0h0.7M325.0 75.1h0.7M326.5 102.2h0.7M328.4 99.8h0.7M326.6 103.8h0.7M328.5 89.8h0.7M328.2 90.5h0.7M330.5 84.6h0.7M327.6 108.2h0.7M327.8 77.1h0.7M325.0 102.2h0.7M328.9 86.3h0.7M326.4 101.2h0.7M326.9 92.1h0.7M327.2 106.7h0.7M329.4 97.5h0.7M328.1 97.5h0.7M322.6 71.3h0.7M329.1 80.1h0.7M325.5 111.6h0.7M325.4 79.7h0.7M326.8 77.7h0.7M322.5 73.1h0.7M326.5 107.9h0.7M326.1 105.3h0.7M326.1 77.2h0.7M327.3 110.1h0.7M329.4 86.5h0.7M327.8 94.2h0.7M326.1 110.5h0.7M325.3 113.7h0.7M328.0 81.9h0.7M328.6 91.8h0.7M328.6 92.2h0.7M327.4 103.6h0.7M322.3 75.4h0.7M328.2 81.2h0.7M327.7 114.4h0.7M325.3 109.8h0.7M328.4 85.3h0.7M331.1 86.1h0.7M323.6 75.7h0.7M325.3 74.6h0.7M325.8 77.8h0.7M326.5 82.6h0.7M329.8 76.8h0.7M328.8 85.9h0.7M326.7 96.0h0.7M326.8 107.2h0.7M324.9 73.7h0.7M327.2 89.9h0.7M326.5 105.5h0.7M327.3 102.8h0.7M327.8 74.8h0.7M328.1 102.5h0.7M329.8 93.1h0.7M329.0 82.4h0.7M328.8 103.9h0.7M328.8 102.8h0.7M326.6 105.2h0.7M330.7 90.8h0.7M325.9 76.6h0.7M328.3 99.6h0.7M327.8 79.3h0.7M326.9 103.8h0.7M325.8 113.5h0.7M325.4 75.2h0.7M326.6 78.5h0.7M320.9 68.6h0.7M321.9 72.9h0.7M326.5 100.8h0.7M330.5 82.5h0.7M328.7 106.5h0.7M329.0 90.4h0.7M329.5 84.4h0.7M330.2 83.2h0.7M326.3 101.6h0.7M326.9 92.9h0.7M323.8 74.7h0.7M328.6 107.9h0.7M324.0 73.3h0.7M325.7 70.9h0.7M321.6 69.7h0.7M326.9 103.3h0.7M325.4 103.4h0.7M327.5 108.7h0.7M326.9 111.4h0.7M327.3 76.8h0.7M327.8 75.4h0.7M327.6 100.4h0.7M327.1 113.0h0.7M323.4 72.4h0.7M326.2 110.4h0.7M328.7 82.3h0.7M329.1 94.5h0.7M328.7 83.3h0.7M327.9 111.2h0.7M327.6 89.7h0.7M327.3 78.6h0.7M328.8 90.5h0.7M330.0 88.8h0.7M325.4 105.2h0.7M327.7 87.6h0.7" stroke="#111" stroke-width="0.72" opacity="1" fill="none"/>
<path d="M265.9 52.6C267.4 50.1 271.8 52.2 275.0 52.0C278.2 51.8 281.7 51.4 285.0 51.3C288.3 51.2 292.2 51.1 295.0 51.3C297.8 51.5 299.8 51.9 302.0 52.6C304.2 53.3 306.0 54.4 308.0 55.6C310.0 56.8 313.9 58.7 314.0 60.0C314.1 61.3 310.5 62.6 308.5 63.6C306.5 64.7 304.2 65.5 302.0 66.3C299.8 67.1 297.8 67.8 295.0 68.2C292.2 68.6 288.3 68.8 285.0 68.8C281.7 68.8 278.2 68.5 275.0 68.2C271.8 67.9 267.4 69.8 265.9 67.2C264.4 64.6 264.4 55.1 265.9 52.6Z" fill="#050505" filter="url(#bl0)"/>
<path d="M267.9 54.9C269.2 53.1 273.2 54.6 276.0 54.5C278.8 54.3 281.9 54.1 284.9 54.0C287.9 53.9 291.3 53.8 293.8 54.0C296.3 54.1 298.1 54.4 300.0 54.9C301.9 55.4 303.6 56.1 305.4 57.0C307.1 57.8 310.6 59.1 310.7 60.1C310.8 61.0 307.6 61.8 305.8 62.6C304.0 63.3 302.0 63.9 300.0 64.5C298.0 65.0 296.3 65.5 293.8 65.8C291.3 66.1 287.9 66.2 284.9 66.2C281.9 66.2 278.8 66.0 276.0 65.8C273.2 65.6 269.2 66.9 267.9 65.1C266.5 63.3 266.5 56.7 267.9 54.9Z" fill="#e4e4e4"/>
<path d="M268.8 56.1C270.1 54.8 273.8 55.9 276.4 55.8C279.1 55.7 282.0 55.5 284.8 55.4C287.6 55.4 290.9 55.3 293.2 55.4C295.6 55.6 297.3 55.8 299.1 56.1C300.9 56.5 302.5 57.1 304.2 57.8C305.8 58.4 309.1 59.4 309.2 60.1C309.3 60.9 306.3 61.5 304.6 62.1C302.9 62.6 301.0 63.1 299.1 63.5C297.2 64.0 295.6 64.3 293.2 64.6C290.9 64.8 287.6 64.9 284.8 64.9C282.0 64.9 279.1 64.7 276.4 64.6C273.8 64.4 270.1 65.4 268.8 64.0C267.5 62.6 267.5 57.5 268.8 56.1Z" fill="#888" filter="url(#bl0)"/>
<ellipse cx="291" cy="60.6" rx="9" ry="1.8" fill="#1a1a1a" filter="url(#bl1)"/>
<path d="M319.8 52.4C322.0 52.4 326.1 57.4 326.4 59.6C326.7 61.8 322.2 63.9 321.4 65.6C320.6 67.2 322.2 68.8 321.6 69.5C321.0 70.2 318.6 70.2 318.0 69.5C317.4 68.8 319.0 67.2 318.2 65.6C317.4 63.9 313.1 61.8 313.4 59.6C313.7 57.4 317.6 52.4 319.8 52.4Z" fill="#050505" stroke="#050505" stroke-width="1.4" stroke-linejoin="round" filter="url(#bl0)"/>
<path d="M319.8 55.6L323.7 59.7L319.9 63.8L316.2 59.7Z" fill="#bbb"/>
<path d="M318.0 69.0C317.1 69.8 317.4 72.0 316.5 73.5C315.6 75.0 313.2 76.2 312.3 78.0C311.4 79.8 311.1 81.7 311.0 84.0C310.9 86.3 311.3 89.0 311.6 92.0C311.9 95.0 312.6 98.1 313.0 102.0C313.4 105.9 311.8 113.2 314.0 115.5C316.2 117.8 324.0 117.8 326.2 115.5C328.4 113.2 326.8 105.9 327.2 102.0C327.6 98.1 328.2 95.0 328.6 92.0C329.0 89.0 329.4 86.3 329.3 84.0C329.2 81.7 328.9 79.8 328.0 78.0C327.1 76.2 324.8 75.0 323.7 73.5C322.6 72.0 322.6 69.8 321.6 69.0C320.7 68.2 318.9 68.2 318.0 69.0Z" fill="#050505" stroke="#050505" stroke-width="0.8" filter="url(#bl0)"/>
<path d="M320.1 72.5C319.5 72.5 319.3 74.8 318.4 76.0C317.5 77.2 315.4 78.5 314.6 80.0C313.9 81.5 313.9 82.8 313.9 85.0C313.9 87.2 314.2 90.0 314.5 93.0C314.8 96.0 315.4 99.5 315.7 103.0C316.0 106.5 315.0 112.2 316.4 114.0C317.8 115.8 322.4 115.8 323.8 114.0C325.2 112.2 324.2 106.5 324.5 103.0C324.8 99.5 325.4 96.0 325.7 93.0C326.0 90.0 326.3 87.2 326.3 85.0C326.3 82.8 326.4 81.5 325.6 80.0C324.9 78.5 322.7 77.2 321.8 76.0C320.9 74.8 320.7 72.5 320.1 72.5Z" fill="#eee"/>
<path d="M320.1 73.9C319.7 73.9 319.6 76.0 318.9 77.2C318.3 78.4 316.8 79.5 316.2 80.9C315.7 82.3 315.8 83.5 315.8 85.6C315.7 87.6 316.0 90.2 316.2 93.0C316.4 95.8 316.8 99.0 317.0 102.3C317.2 105.6 316.6 110.8 317.5 112.5C318.5 114.2 321.7 114.2 322.7 112.5C323.6 110.8 323.0 105.6 323.2 102.3C323.4 99.0 323.8 95.8 324.0 93.0C324.2 90.2 324.5 87.6 324.4 85.6C324.4 83.5 324.5 82.3 324.0 80.9C323.4 79.5 321.9 78.4 321.3 77.2C320.6 76.0 320.5 73.9 320.1 73.9Z" fill="#777" filter="url(#bl0)"/>
<path d="M320.1 76.5C318.3 80 317.6 84 317.6 88C317.8 95 318.6 101 319 106L321.2 106C321.6 101 322.5 95 322.6 88C322.6 84 322 80 320.1 76.5Z" fill="#111" filter="url(#bl0)"/>
<path d="M320.1 80V105" stroke="#bbb" stroke-width="0.5" stroke-dasharray="1.2 1"/>
</g>
<path d="M267.9 47.1L311.5 47.1L311.5 66.3L304.5 73L267.9 73Z" stroke="#333" stroke-width="0.95" fill="none"/>
<path d="M305.2 76.3L311.8 69.6L335.9 69.6L335.9 115L305.2 115Z" stroke="#333" stroke-width="0.95" fill="none"/>
<g transform="translate(0,85.5)">
<path d="M89.9 57.9h0.6M97.2 64.4h0.6M99.4 70.4h0.6M90.8 70.7h0.6M98.7 62.2h0.6M90.9 56.8h0.6M116.8 60.8h0.6M96.9 68.8h0.6M91.4 70.6h0.6M96.2 57.1h0.6M95.6 68.9h0.6M93.2 66.9h0.6M92.3 62.7h0.6M100.4 73.3h0.6M111.5 60.1h0.6M98.2 73.4h0.6M120.5 75.8h0.6M90.6 61.8h0.6M99.6 58.3h0.6M100.0 63.7h0.6M94.9 65.9h0.6M82.7 72.0h0.6M98.0 67.6h0.6M106.1 75.0h0.6M97.8 64.0h0.6M90.2 67.2h0.6M101.9 59.4h0.6M96.5 63.8h0.6M114.6 58.3h0.6M89.9 70.7h0.6M82.7 58.2h0.6M90.8 62.1h0.6M101.8 61.3h0.6M89.9 68.6h0.6M92.8 68.5h0.6M91.8 73.4h0.6M102.5 62.1h0.6M85.4 62.3h0.6M96.4 68.3h0.6M88.0 64.5h0.6M100.6 60.7h0.6M100.1 64.1h0.6M93.1 64.8h0.6M97.1 59.9h0.6M99.6 71.7h0.6M102.1 60.1h0.6M88.6 62.6h0.6M87.1 58.6h0.6M124.0 59.9h0.6M95.1 69.1h0.6M82.2 69.9h0.6M97.6 67.0h0.6M84.3 65.6h0.6M94.1 62.4h0.6M95.3 60.6h0.6M99.4 71.3h0.6M87.5 65.8h0.6M94.8 65.7h0.6M87.6 69.7h0.6M100.5 58.3h0.6M98.9 62.1h0.6M97.9 63.6h0.6M98.3 66.0h0.6M87.3 72.4h0.6M126.4 67.7h0.6M126.7 72.5h0.6M116.6 57.5h0.6M86.6 60.3h0.6M82.4 65.6h0.6M96.9 63.9h0.6" stroke="#777" stroke-width="0.60" opacity="1" fill="none"/>
<path d="M137.0 72.7h0.6M115.3 79.4h0.6M119.5 76.9h0.6M112.1 90.0h0.6M135.3 67.4h0.6M117.6 78.1h0.6M125.3 73.7h0.6M114.1 81.4h0.6M109.9 93.7h0.6M134.6 73.0h0.6M118.5 73.7h0.6M126.5 65.9h0.6M125.5 55.7h0.6M119.5 74.6h0.6M120.9 76.8h0.6M120.5 79.3h0.6M121.1 77.3h0.6M114.6 76.8h0.6M116.0 74.8h0.6M133.3 62.5h0.6M126.9 65.9h0.6M106.7 76.1h0.6M102.5 82.5h0.6M119.8 76.1h0.6M124.2 65.1h0.6" stroke="#888" stroke-width="0.60" opacity="1" fill="none"/>
<path d="M112.6 97.1h0.6M111.1 102.2h0.6M107.8 84.5h0.6M107.1 94.0h0.6M105.8 105.3h0.6M108.2 90.5h0.6M118.1 99.3h0.6M106.2 101.0h0.6M99.3 92.1h0.6M104.0 99.3h0.6M113.1 93.9h0.6M104.8 102.8h0.6" stroke="#aaa" stroke-width="0.60" opacity="1" fill="none"/>
<clipPath id="cL"><rect x="80.7" y="50" width="20" height="40"/></clipPath>
<ellipse cx="80.7" cy="67.5" rx="3" ry="6.8" fill="#555" filter="url(#bl1)" clip-path="url(#cL)"/>
<path d="M98.2 68C101 62.5 114 60.3 119.5 61.3C124.5 62.3 125 71 120 73C114 75 101 74 98.2 68Z" transform="translate(110 67.5) scale(1 1) translate(-110 -67.5)" vector-effect="non-scaling-stroke" stroke="#888" stroke-width="0.45" fill="none" filter="url(#blc)"/>
<ellipse cx="110.5" cy="67.25" rx="9.5" ry="4.5" stroke="#909090" stroke-width="0.55" fill="none" filter="url(#blc)"/>
<ellipse cx="110.5" cy="67.25" rx="6.5" ry="3" stroke="#909090" stroke-width="0.55" fill="none" filter="url(#blc)"/>
<ellipse cx="110.5" cy="67.25" rx="3.5" ry="1.5" stroke="#909090" stroke-width="0.55" fill="none" filter="url(#blc)"/>
<path d="M124.8 74.4h0.6M134.8 105.8h0.6M123.6 79.0h0.6M138.4 84.0h0.6M139.8 72.9h0.6M123.0 73.5h0.6M136.8 99.0h0.6M123.4 72.3h0.6M131.7 74.3h0.6M124.1 107.0h0.6M137.1 89.1h0.6M130.2 75.6h0.6M137.5 87.3h0.6M125.9 109.3h0.6M134.0 80.1h0.6M123.5 84.9h0.6M124.1 71.7h0.6M127.8 74.8h0.6M123.8 82.3h0.6M139.6 81.2h0.6M136.1 96.6h0.6M123.3 87.1h0.6M133.4 71.1h0.6M136.6 80.3h0.6M131.4 77.0h0.6M137.3 76.2h0.6M137.7 83.1h0.6M123.2 83.6h0.6M128.6 75.4h0.6M123.1 73.9h0.6M133.4 80.3h0.6M123.8 85.4h0.6M135.4 85.8h0.6M128.9 73.7h0.6M136.1 85.7h0.6M122.5 79.5h0.6M126.3 74.6h0.6M123.7 109.9h0.6M138.8 88.9h0.6M121.5 69.4h0.6M126.7 65.6h0.6M137.6 91.3h0.6M130.7 76.1h0.6M137.6 88.4h0.6M136.5 87.8h0.6M129.8 66.1h0.6M134.7 60.2h0.6M135.4 83.0h0.6M131.1 67.5h0.6M126.8 73.7h0.6M137.4 102.3h0.6M129.9 72.1h0.6M129.1 75.4h0.6M130.3 74.6h0.6M127.3 75.9h0.6M139.1 68.3h0.6M130.3 74.5h0.6M139.2 99.6h0.6M128.2 66.0h0.6M129.6 73.4h0.6M136.7 106.6h0.6M135.2 72.4h0.6M136.5 85.6h0.6M140.3 83.5h0.6M133.3 109.6h0.6M121.9 79.1h0.6M123.5 105.9h0.6M122.3 88.8h0.6M140.1 88.9h0.6M122.4 84.9h0.6M134.6 62.2h0.6M123.3 102.3h0.6M131.8 76.4h0.6M138.3 86.3h0.6M122.8 80.7h0.6M132.9 78.2h0.6M126.1 76.1h0.6M124.2 105.7h0.6M129.5 74.4h0.6M138.9 93.3h0.6" stroke="#888" stroke-width="0.60" opacity="1" fill="none"/>
<ellipse cx="129.5" cy="94.8" rx="6.5" ry="17.3" stroke="#858585" stroke-width="0.55" fill="none" filter="url(#blc)"/>
<ellipse cx="129.5" cy="92.5" rx="5" ry="13.5" stroke="#858585" stroke-width="0.55" fill="none" filter="url(#blc)"/>
<ellipse cx="129.5" cy="90.5" rx="3.5" ry="10" stroke="#858585" stroke-width="0.55" fill="none" filter="url(#blc)"/>
<ellipse cx="129.5" cy="88.5" rx="2" ry="6.5" stroke="#858585" stroke-width="0.55" fill="none" filter="url(#blc)"/>
<ellipse cx="129.5" cy="87.5" rx="0.6" ry="3" stroke="#858585" stroke-width="0.55" fill="none" filter="url(#blc)"/>
<clipPath id="cLb"><rect x="110" y="100" width="40" height="15.3"/></clipPath>
<ellipse cx="129.2" cy="114.8" rx="6.2" ry="2.8" fill="#222" filter="url(#bl0)" clip-path="url(#cLb)"/>
<ellipse cx="129.2" cy="114.4" rx="3" ry="0.9" fill="#ccc" clip-path="url(#cLb)"/>
<path d="M80.7 55.1L128.5 55.1L118.8 76.2L80.7 76.2Z" stroke="#222" stroke-width="1.1" fill="none"/>
<path d="M120.8 78.3L141.3 59.7L141.3 114.8L120.8 114.8Z" stroke="#222" stroke-width="1.1" fill="none"/>
<clipPath id="cEb"><rect x="174.2" y="43" width="40" height="40"/></clipPath>
<ellipse cx="174.2" cy="64.5" rx="6.4" ry="10.8" fill="#777" filter="url(#bl1)" clip-path="url(#cEb)"/>
<ellipse cx="174.2" cy="64.5" rx="3.6" ry="8" fill="#1a1a1a" filter="url(#bl1)" clip-path="url(#cEb)"/>
<path d="M174.6 55.5a5 9 0 0 1 0 18" stroke="#ccc" stroke-width="0.45" fill="none"/>
<path d="M174.6 57.5a3.6 7 0 0 1 0 14" stroke="#ccc" stroke-width="0.45" fill="none"/>
<path d="M174.6 59.5a2.3 5 0 0 1 0 10" stroke="#ccc" stroke-width="0.45" fill="none"/>
<path d="M174.6 61.5a1.2 3 0 0 1 0 6" stroke="#ccc" stroke-width="0.45" fill="none"/>
<path d="M181 64C182 58 188 57.5 193 58C198 56.5 206 59 206 64.5C206 70 199 73.5 193 72.5C189 74.5 185 73 184 69C182 68 180.8 66 181 64Z" fill="#bbb" opacity="0.35"/>
<path d="M181 64C182 58 188 57.5 193 58C198 56.5 206 59 206 64.5C206 70 199 73.5 193 72.5C189 74.5 185 73 184 69C182 68 180.8 66 181 64Z" transform="translate(194.5 65) scale(1 1) translate(-194.5 -65)" vector-effect="non-scaling-stroke" stroke="#777" stroke-width="0.5" fill="none" filter="url(#blc)"/>
<path d="M181 64C182 58 188 57.5 193 58C198 56.5 206 59 206 64.5C206 70 199 73.5 193 72.5C189 74.5 185 73 184 69C182 68 180.8 66 181 64Z" transform="translate(194.5 65) scale(0.8 0.8) translate(-194.5 -65)" vector-effect="non-scaling-stroke" stroke="#777" stroke-width="0.5" fill="none" filter="url(#blc)"/>
<path d="M181 64C182 58 188 57.5 193 58C198 56.5 206 59 206 64.5C206 70 199 73.5 193 72.5C189 74.5 185 73 184 69C182 68 180.8 66 181 64Z" transform="translate(194.5 65) scale(0.6 0.6) translate(-194.5 -65)" vector-effect="non-scaling-stroke" stroke="#777" stroke-width="0.5" fill="none" filter="url(#blc)"/>
<ellipse cx="189.5" cy="65" rx="2.6" ry="2.4" stroke="#777" stroke-width="0.5" fill="none" filter="url(#blc)"/>
<ellipse cx="189.5" cy="65" rx="1" ry="0.9" stroke="#888" stroke-width="0.5" fill="none" filter="url(#blc)"/>
<ellipse cx="198.3" cy="65" rx="3.2" ry="2.6" stroke="#777" stroke-width="0.5" fill="none" filter="url(#blc)"/>
<ellipse cx="198.3" cy="65" rx="1.3" ry="1" stroke="#888" stroke-width="0.5" fill="none" filter="url(#blc)"/>
<ellipse cx="198.5" cy="55.7" rx="1.8" ry="1.8" stroke="#777" stroke-width="0.5" fill="none" filter="url(#blc)"/>
<path d="M174.2 47.8L207.5 47.8L207.5 78.89999999999999L174.2 78.89999999999999Z" stroke="#222" stroke-width="1.0" fill="none"/>
<path d="M212.7 75.1L238.5 75.1L238.5 115.2L212.7 115.2Z" stroke="#222" stroke-width="1.0" fill="none"/>
<clipPath id="cDb"><rect x="267.9" y="43.3" width="72.5" height="72"/></clipPath>
<g clip-path="url(#cDb)">
<path d="M278.0 51.7h0.7M290.2 60.4h0.7M315.1 58.8h0.7M309.3 54.4h0.7M315.9 61.7h0.7M293.1 57.3h0.7M297.6 55.3h0.7M288.0 63.2h0.7M300.4 64.9h0.7M295.8 66.8h0.7M269.9 70.5h0.7M291.5 62.9h0.7M292.2 62.9h0.7M284.4 58.4h0.7M315.4 55.5h0.7M299.0 67.9h0.7M296.1 62.2h0.7M316.2 53.8h0.7M270.8 52.9h0.7M296.8 55.2h0.7M305.9 59.3h0.7M269.5 64.3h0.7M292.7 68.3h0.7M291.2 56.0h0.7M271.8 61.9h0.7M305.3 67.1h0.7M299.0 71.7h0.7M281.8 55.9h0.7M290.1 67.7h0.7M312.9 50.9h0.7M270.6 66.5h0.7M294.7 69.5h0.7M296.3 59.9h0.7M277.6 64.3h0.7M297.5 55.4h0.7M281.5 61.2h0.7M279.2 52.1h0.7M298.1 48.9h0.7M287.4 54.8h0.7M287.8 71.8h0.7M332.8 66.7h0.7M283.7 51.8h0.7M282.8 63.5h0.7M294.8 63.5h0.7M279.1 52.7h0.7M293.3 53.0h0.7M328.4 59.2h0.7M277.2 69.9h0.7M269.3 56.5h0.7M300.9 49.6h0.7M294.4 55.4h0.7M284.9 60.3h0.7M296.3 52.9h0.7M309.3 74.2h0.7M286.2 49.9h0.7M293.8 59.6h0.7M282.0 65.1h0.7M278.8 56.7h0.7M298.7 61.8h0.7M299.4 69.9h0.7M312.4 61.8h0.7M287.8 64.5h0.7M298.7 62.6h0.7M278.2 63.8h0.7M276.4 62.1h0.7M284.6 63.8h0.7M296.2 60.3h0.7M307.2 71.2h0.7M323.6 51.6h0.7M300.5 54.0h0.7M276.8 65.2h0.7M301.3 62.1h0.7M317.2 75.2h0.7M281.2 67.9h0.7M318.3 59.0h0.7M279.4 62.5h0.7M277.0 66.0h0.7M307.8 58.3h0.7M303.6 59.9h0.7M329.0 66.0h0.7M319.4 67.4h0.7M274.5 57.3h0.7M298.7 53.7h0.7M313.4 59.9h0.7M331.3 54.6h0.7M284.0 49.4h0.7M318.2 62.8h0.7M289.0 55.8h0.7M294.2 62.7h0.7M278.9 60.0h0.7M300.0 54.2h0.7M320.5 60.6h0.7M276.6 63.2h0.7M315.2 48.1h0.7M286.0 62.6h0.7M272.4 50.5h0.7M298.7 50.6h0.7M292.5 57.3h0.7M315.9 57.1h0.7M298.1 63.7h0.7M277.2 55.7h0.7M302.9 58.5h0.7M303.8 58.5h0.7M313.0 53.0h0.7M312.8 52.1h0.7M282.3 60.3h0.7M293.3 72.4h0.7M309.3 68.7h0.7M276.7 67.5h0.7M304.9 47.2h0.7M287.7 52.3h0.7M312.4 56.1h0.7M325.9 69.2h0.7M297.6 62.1h0.7M280.8 56.6h0.7M288.7 48.8h0.7M310.2 76.1h0.7M317.3 60.9h0.7M323.7 59.4h0.7M316.6 56.3h0.7M304.7 64.9h0.7M282.6 53.7h0.7M299.1 68.6h0.7M302.3 68.0h0.7M314.2 68.5h0.7M298.8 79.2h0.7M310.1 68.0h0.7M279.7 56.8h0.7M270.4 53.8h0.7M278.4 57.6h0.7M277.0 57.0h0.7M309.6 64.0h0.7M297.5 61.1h0.7M300.1 53.6h0.7M282.3 69.5h0.7M295.8 62.1h0.7M304.0 49.1h0.7M293.7 67.6h0.7M303.5 64.2h0.7M313.9 60.9h0.7M298.3 62.2h0.7M283.1 57.3h0.7M293.4 59.4h0.7M279.7 58.7h0.7M278.2 67.6h0.7M285.3 47.1h0.7M283.7 56.3h0.7M296.5 67.6h0.7M318.3 62.9h0.7M292.8 58.0h0.7M273.8 57.0h0.7M289.1 48.3h0.7M278.1 63.3h0.7M290.9 48.6h0.7M302.2 59.1h0.7M274.6 47.5h0.7M283.7 78.2h0.7M268.5 79.4h0.7M314.1 51.7h0.7M272.8 67.4h0.7M293.0 70.5h0.7M295.5 64.9h0.7M286.4 63.4h0.7M303.4 64.7h0.7M299.7 61.6h0.7M294.3 57.5h0.7M272.0 56.6h0.7M269.1 46.7h0.7M307.7 59.3h0.7M321.8 60.0h0.7M284.9 68.0h0.7M322.2 70.8h0.7M275.1 51.6h0.7M271.6 65.3h0.7M294.1 58.6h0.7M300.8 74.8h0.7M276.2 64.2h0.7M309.1 61.7h0.7M282.6 59.4h0.7M304.4 61.5h0.7M312.4 51.9h0.7M287.2 69.1h0.7M283.9 68.3h0.7M273.3 60.9h0.7M281.2 60.9h0.7M272.9 69.5h0.7M290.3 68.9h0.7M270.3 58.2h0.7M304.7 75.9h0.7M327.9 68.0h0.7M309.0 66.7h0.7M285.0 63.6h0.7M300.7 76.6h0.7M274.4 65.5h0.7M278.5 51.4h0.7M298.1 58.5h0.7M271.1 71.2h0.7M306.7 56.0h0.7M290.3 57.3h0.7M276.6 55.5h0.7M282.2 54.7h0.7M294.1 66.8h0.7M282.8 48.5h0.7M305.6 56.7h0.7M321.3 66.8h0.7M286.7 73.7h0.7M302.1 62.1h0.7M287.7 52.1h0.7M314.7 51.2h0.7M308.2 61.1h0.7M281.5 60.4h0.7M295.9 57.7h0.7M274.1 57.9h0.7M271.5 67.1h0.7M285.0 65.8h0.7M274.0 51.3h0.7M299.2 64.5h0.7M284.3 68.5h0.7M309.0 67.2h0.7M277.0 56.7h0.7M274.7 67.8h0.7M314.3 52.0h0.7M280.5 61.4h0.7M269.8 64.2h0.7M284.3 59.2h0.7M269.8 51.2h0.7M303.8 66.4h0.7M297.6 56.1h0.7M269.9 59.6h0.7M269.2 58.4h0.7M276.6 68.7h0.7M299.1 70.0h0.7M282.5 78.6h0.7M271.3 58.0h0.7M275.0 47.0h0.7M312.1 72.6h0.7M269.6 52.1h0.7M276.7 73.8h0.7M270.7 59.8h0.7M322.4 60.3h0.7M271.4 47.2h0.7M281.5 53.6h0.7M329.8 56.2h0.7M277.9 53.5h0.7M281.9 61.0h0.7M316.9 51.3h0.7M269.4 56.0h0.7M289.4 59.4h0.7M275.7 64.6h0.7M273.4 56.3h0.7M279.6 63.1h0.7M325.9 62.2h0.7M297.2 61.7h0.7M330.5 61.1h0.7M304.8 63.1h0.7M293.0 72.4h0.7M301.9 64.7h0.7M301.2 65.0h0.7M289.1 62.9h0.7M293.6 55.0h0.7M286.8 46.3h0.7M289.3 59.3h0.7M269.6 53.0h0.7M269.8 59.4h0.7M299.5 72.0h0.7M302.7 50.9h0.7M308.3 61.5h0.7M289.1 56.8h0.7M270.5 59.5h0.7M319.0 62.3h0.7M301.6 70.4h0.7M329.2 75.0h0.7M300.8 72.7h0.7M281.5 53.2h0.7M308.3 58.2h0.7M312.7 74.9h0.7M294.3 64.3h0.7M275.5 57.8h0.7M275.6 63.0h0.7M282.7 48.1h0.7M283.8 57.0h0.7M313.3 64.1h0.7M315.7 67.2h0.7M300.1 50.4h0.7M299.1 52.6h0.7M286.2 63.8h0.7M279.5 49.7h0.7M271.9 53.9h0.7M280.2 64.1h0.7M320.3 56.9h0.7M277.3 62.8h0.7M291.8 67.4h0.7M295.0 55.9h0.7M285.5 54.7h0.7M269.0 65.9h0.7M288.8 75.9h0.7M330.4 54.4h0.7M290.5 62.5h0.7M318.2 60.1h0.7M286.6 69.1h0.7M306.4 64.2h0.7M288.1 54.0h0.7M297.9 70.1h0.7M310.9 54.0h0.7M304.4 66.4h0.7M292.8 75.5h0.7M269.1 65.3h0.7M300.1 56.3h0.7M279.3 70.3h0.7M277.2 55.2h0.7M273.6 54.9h0.7M300.4 52.1h0.7M284.2 50.7h0.7M281.5 53.5h0.7M299.4 67.1h0.7M286.4 62.2h0.7M290.9 51.3h0.7M297.5 62.7h0.7M286.8 58.7h0.7M304.2 54.0h0.7M326.7 57.7h0.7M272.6 65.0h0.7M321.2 60.3h0.7M313.8 60.2h0.7M279.3 59.7h0.7M289.7 74.8h0.7M287.1 73.6h0.7M282.6 71.5h0.7M288.8 59.0h0.7M301.1 52.8h0.7M288.6 67.9h0.7M291.3 63.7h0.7M291.3 72.3h0.7M285.3 53.4h0.7M278.5 58.6h0.7M290.5 72.8h0.7M322.4 77.4h0.7M281.2 56.1h0.7M284.9 50.0h0.7M289.9 49.0h0.7M298.3 81.3h0.7M306.0 56.4h0.7M280.7 65.3h0.7M288.9 70.3h0.7M297.1 65.6h0.7M287.6 59.5h0.7M272.4 55.7h0.7M284.2 55.0h0.7M274.3 61.7h0.7M327.8 62.6h0.7M276.8 66.0h0.7M305.6 57.9h0.7M277.4 59.9h0.7M304.6 47.8h0.7M300.5 58.0h0.7M298.0 62.4h0.7M273.3 52.9h0.7M293.1 71.8h0.7M278.5 63.2h0.7M290.0 56.0h0.7M298.5 48.1h0.7M291.1 65.2h0.7M281.6 53.7h0.7M270.3 58.1h0.7M286.8 65.7h0.7M289.7 52.5h0.7M311.4 74.3h0.7M296.2 65.8h0.7M302.1 69.6h0.7M288.9 59.0h0.7M315.7 55.3h0.7M298.2 53.7h0.7M279.8 62.4h0.7M284.8 77.1h0.7M278.6 77.8h0.7M310.6 45.4h0.7M301.3 67.5h0.7M296.7 55.0h0.7M288.1 62.6h0.7M291.7 67.0h0.7M279.7 57.3h0.7M297.1 45.2h0.7M278.7 63.0h0.7M272.9 58.1h0.7M312.8 68.7h0.7M273.2 58.7h0.7M288.6 73.8h0.7M304.1 57.3h0.7M275.9 58.1h0.7M278.7 71.3h0.7M282.2 60.4h0.7M303.2 66.6h0.7M303.1 69.1h0.7M308.6 53.8h0.7M289.3 57.1h0.7M320.2 47.8h0.7M300.2 68.7h0.7M279.9 47.1h0.7M307.0 55.0h0.7M306.2 58.4h0.7M308.9 62.0h0.7M288.5 62.8h0.7M285.8 55.9h0.7M303.4 52.7h0.7M304.0 68.3h0.7M290.0 55.4h0.7M294.6 60.3h0.7M304.0 69.6h0.7M275.9 51.3h0.7M299.9 58.5h0.7M311.8 63.8h0.7M276.0 67.5h0.7M281.3 73.0h0.7M273.1 58.3h0.7M301.1 57.8h0.7M283.9 66.0h0.7M278.7 49.3h0.7M281.4 64.0h0.7M273.0 56.9h0.7M294.1 61.0h0.7M304.9 46.4h0.7M300.1 64.0h0.7M269.9 79.7h0.7M324.5 70.4h0.7M313.4 64.8h0.7M319.5 58.7h0.7M303.9 57.2h0.7M329.6 56.2h0.7M282.8 74.6h0.7M300.1 58.3h0.7M295.9 66.6h0.7M299.0 56.6h0.7M316.7 52.3h0.7M272.7 58.1h0.7M298.0 61.0h0.7M303.8 59.5h0.7M307.9 57.7h0.7M300.8 50.1h0.7M285.9 64.7h0.7M294.4 66.7h0.7M297.3 70.7h0.7M282.5 66.1h0.7M301.7 55.6h0.7M290.7 61.0h0.7M283.3 60.4h0.7M283.7 60.4h0.7M274.5 59.6h0.7M306.8 59.6h0.7M290.8 56.3h0.7M291.2 69.7h0.7M287.1 61.6h0.7M307.9 66.5h0.7M275.2 70.7h0.7M271.3 58.1h0.7M269.0 50.5h0.7M275.3 50.1h0.7M279.3 65.7h0.7M308.6 67.0h0.7M295.8 66.7h0.7M282.3 68.4h0.7M297.5 52.0h0.7M269.5 60.4h0.7M293.5 66.1h0.7M301.9 64.5h0.7M308.1 63.1h0.7M279.2 59.3h0.7M288.8 52.2h0.7M272.9 55.0h0.7M296.3 49.4h0.7M306.3 67.9h0.7M284.9 74.2h0.7M278.2 65.1h0.7M299.2 65.1h0.7M293.9 59.9h0.7M270.0 65.5h0.7M273.2 48.3h0.7M305.3 59.9h0.7M300.0 63.8h0.7M303.8 61.2h0.7M300.8 64.7h0.7M308.4 54.2h0.7M281.8 62.8h0.7M301.1 62.9h0.7M282.9 59.2h0.7M304.5 61.1h0.7M285.3 49.0h0.7M271.4 63.9h0.7M272.4 54.7h0.7M310.2 56.8h0.7M274.0 51.7h0.7M305.1 60.9h0.7M298.0 51.7h0.7M283.8 65.7h0.7M269.8 65.3h0.7M274.0 63.5h0.7M311.5 68.0h0.7M284.7 55.9h0.7M288.0 63.2h0.7M283.2 59.5h0.7M310.4 64.2h0.7" stroke="#1a1a1a" stroke-width="0.66" opacity="1" fill="none"/>
<path d="M283.9 70.5h0.7M300.7 52.8h0.7M297.1 71.7h0.7M300.4 49.7h0.7M311.0 54.8h0.7M280.7 53.9h0.7M303.1 71.2h0.7M309.5 55.3h0.7M283.6 71.6h0.7M278.1 50.2h0.7M302.8 69.1h0.7M306.5 70.2h0.7M310.3 66.3h0.7M284.8 50.0h0.7M300.3 52.5h0.7M289.3 50.6h0.7M286.8 69.0h0.7M307.9 54.6h0.7M310.0 52.1h0.7M279.6 71.0h0.7M307.0 69.1h0.7M285.0 70.9h0.7M307.2 52.7h0.7M299.4 52.0h0.7M287.8 71.8h0.7M315.8 59.8h0.7M311.9 57.8h0.7M297.4 52.4h0.7M306.1 70.6h0.7M288.9 69.1h0.7M296.8 72.8h0.7M292.1 70.9h0.7M314.7 60.3h0.7M298.1 49.7h0.7M311.5 57.6h0.7M308.2 53.9h0.7M294.9 72.3h0.7M291.5 69.7h0.7M283.6 72.5h0.7M313.5 56.6h0.7M285.7 51.0h0.7M299.6 72.2h0.7M301.2 50.0h0.7M302.6 51.3h0.7M292.8 70.3h0.7M310.8 67.6h0.7M312.5 58.4h0.7M300.9 53.9h0.7M294.9 71.2h0.7M314.3 62.8h0.7M308.7 68.8h0.7M309.0 55.0h0.7M295.1 72.0h0.7M279.8 51.5h0.7M300.9 49.7h0.7M305.2 69.3h0.7M302.1 68.5h0.7M313.6 64.3h0.7M307.5 69.7h0.7M291.6 53.5h0.7M314.1 58.4h0.7M314.4 61.8h0.7M309.2 67.5h0.7M295.9 53.1h0.7M304.7 53.0h0.7M314.4 58.5h0.7M312.2 55.4h0.7M312.8 59.4h0.7M288.9 51.5h0.7M286.0 51.4h0.7M308.8 68.5h0.7M295.0 72.2h0.7M284.9 53.0h0.7M296.1 74.1h0.7M284.1 72.9h0.7M304.4 71.0h0.7M299.7 71.2h0.7M313.2 65.8h0.7M303.1 53.3h0.7M301.2 70.4h0.7M302.2 71.6h0.7M297.3 51.5h0.7M302.2 71.3h0.7M306.3 55.0h0.7M289.0 73.3h0.7M314.9 60.4h0.7M316.8 63.0h0.7M286.0 72.4h0.7M295.2 72.8h0.7M292.4 50.9h0.7M286.2 50.3h0.7M315.1 58.1h0.7M296.4 50.3h0.7M313.5 60.0h0.7M302.9 52.9h0.7M287.3 72.9h0.7M293.3 71.0h0.7M284.0 70.8h0.7M306.0 51.1h0.7M279.3 52.7h0.7M315.4 63.2h0.7M292.7 71.6h0.7M287.8 71.8h0.7M284.0 51.3h0.7M282.6 49.8h0.7M296.6 53.5h0.7M315.4 63.1h0.7M282.5 72.8h0.7M314.7 57.0h0.7M309.0 54.5h0.7M282.2 52.6h0.7M291.9 51.8h0.7M293.9 51.5h0.7M284.2 52.9h0.7M305.9 71.1h0.7M304.9 52.4h0.7M311.1 68.2h0.7M294.6 51.1h0.7M312.6 59.8h0.7M298.1 68.8h0.7M312.3 58.4h0.7M298.6 51.7h0.7M282.6 50.3h0.7M309.9 68.7h0.7M315.2 62.4h0.7M280.5 53.0h0.7M283.4 52.4h0.7M281.7 51.1h0.7M279.7 72.4h0.7M310.9 67.9h0.7M299.2 69.5h0.7M305.2 71.1h0.7M317.5 62.4h0.7M285.6 50.9h0.7M293.1 50.8h0.7M298.9 70.3h0.7M289.6 72.3h0.7M295.1 50.7h0.7M284.7 72.7h0.7M284.6 70.6h0.7M308.3 53.4h0.7M301.3 73.2h0.7M286.2 50.1h0.7M281.4 53.7h0.7M292.4 73.7h0.7M311.2 67.6h0.7M312.5 58.1h0.7M301.4 72.2h0.7M303.5 70.9h0.7M315.0 62.7h0.7M295.4 51.8h0.7M280.3 71.9h0.7M289.6 51.8h0.7M319.0 61.3h0.7M309.4 52.7h0.7M284.9 50.8h0.7M281.5 73.7h0.7M314.6 62.0h0.7M315.3 59.2h0.7M277.1 71.2h0.7M288.9 49.6h0.7M287.0 72.9h0.7M293.5 72.8h0.7M289.9 70.6h0.7M279.4 50.2h0.7M297.2 51.9h0.7M292.1 68.8h0.7M305.5 71.1h0.7M279.5 71.8h0.7M290.8 52.1h0.7M310.9 68.9h0.7M312.2 57.7h0.7M313.7 63.9h0.7M286.1 52.4h0.7M282.7 51.3h0.7M311.7 67.6h0.7M285.0 51.5h0.7M314.6 64.0h0.7M288.5 50.8h0.7M305.3 68.8h0.7M309.9 67.9h0.7M305.6 71.2h0.7M288.9 51.3h0.7M313.9 58.8h0.7M306.1 53.0h0.7M283.5 71.3h0.7M295.5 69.2h0.7M281.6 69.6h0.7M289.6 53.1h0.7M312.5 64.3h0.7M306.2 54.2h0.7M286.2 51.3h0.7M309.2 54.2h0.7M311.2 68.8h0.7M303.7 69.8h0.7M308.6 68.2h0.7M308.0 68.9h0.7M302.1 70.0h0.7M293.3 52.2h0.7M298.8 72.0h0.7M295.2 50.4h0.7M286.6 72.2h0.7M312.6 58.2h0.7M278.9 52.0h0.7M281.8 55.0h0.7M287.5 73.0h0.7M286.8 70.3h0.7M310.1 65.0h0.7M310.6 66.9h0.7M286.5 70.5h0.7M290.3 72.9h0.7M312.2 65.5h0.7M289.2 69.5h0.7M301.5 49.9h0.7M286.9 69.6h0.7M307.1 68.5h0.7M317.8 62.0h0.7M281.2 52.3h0.7M291.9 73.6h0.7M292.5 54.0h0.7M287.5 50.8h0.7M299.9 72.1h0.7M300.4 51.2h0.7M308.0 70.5h0.7M309.5 67.7h0.7M282.9 50.2h0.7M296.0 50.2h0.7M308.3 53.7h0.7M283.0 51.8h0.7M292.2 50.3h0.7M278.8 73.9h0.7M298.8 70.0h0.7M290.9 48.8h0.7M314.4 63.6h0.7M300.2 51.3h0.7M300.9 51.7h0.7M295.6 70.5h0.7M282.2 50.2h0.7M298.3 74.3h0.7M310.7 69.8h0.7M303.9 72.9h0.7M309.9 66.5h0.7M295.7 51.2h0.7M295.5 52.0h0.7M289.7 49.9h0.7M298.8 69.8h0.7M292.5 52.9h0.7M306.4 52.2h0.7M308.2 70.3h0.7M299.7 52.7h0.7M292.7 72.3h0.7M295.8 49.6h0.7M301.7 70.1h0.7M316.8 61.2h0.7M309.7 69.1h0.7M293.9 52.0h0.7M295.7 50.4h0.7M283.4 52.5h0.7M291.7 69.5h0.7M305.9 67.6h0.7M309.5 66.5h0.7M298.1 51.7h0.7M309.1 56.6h0.7M291.9 74.2h0.7M292.3 73.2h0.7M295.1 51.7h0.7M295.2 51.4h0.7M295.6 69.8h0.7M286.4 51.7h0.7M307.4 55.7h0.7M313.9 63.7h0.7M286.9 48.7h0.7M281.4 52.9h0.7M298.7 51.6h0.7M300.8 52.3h0.7M294.6 72.8h0.7M292.7 71.1h0.7M284.7 67.8h0.7M301.5 52.2h0.7M290.1 70.7h0.7M316.1 61.5h0.7M289.3 52.0h0.7M287.4 51.1h0.7M293.3 72.0h0.7M297.6 50.6h0.7M310.3 53.4h0.7M277.0 71.9h0.7M291.7 72.0h0.7M314.3 60.9h0.7M295.8 72.8h0.7M304.6 53.5h0.7M296.2 69.9h0.7M290.2 51.3h0.7M294.4 70.6h0.7M294.3 52.1h0.7M279.5 52.7h0.7M301.9 68.3h0.7M283.7 72.7h0.7M287.9 51.7h0.7M280.0 71.2h0.7M283.5 50.9h0.7M297.3 72.4h0.7M288.4 51.0h0.7M311.5 64.5h0.7M287.7 51.1h0.7M312.4 58.8h0.7M287.9 49.6h0.7M302.8 69.2h0.7M295.5 50.6h0.7M313.4 60.1h0.7M277.8 73.0h0.7M287.5 50.7h0.7M297.0 52.6h0.7M305.2 70.6h0.7M291.6 50.2h0.7M294.5 72.1h0.7M285.5 70.3h0.7M314.0 59.7h0.7M300.6 71.1h0.7M304.3 50.5h0.7M286.1 72.3h0.7M282.6 72.5h0.7M291.8 52.4h0.7M308.7 54.7h0.7M305.8 52.8h0.7M316.3 59.3h0.7M283.4 70.7h0.7M281.2 52.0h0.7M290.7 72.3h0.7M296.6 71.1h0.7M287.1 50.7h0.7M302.3 70.5h0.7M291.5 72.8h0.7M306.8 51.6h0.7M283.2 51.5h0.7M280.4 51.8h0.7M313.7 58.5h0.7M282.9 70.9h0.7M315.2 63.2h0.7M309.9 55.1h0.7M294.7 70.7h0.7M289.8 49.1h0.7M300.1 51.4h0.7M296.0 53.1h0.7M284.2 72.6h0.7M290.1 52.0h0.7M311.3 58.2h0.7M297.7 52.7h0.7M292.5 51.4h0.7M278.2 51.2h0.7M316.0 59.1h0.7M302.3 52.9h0.7M305.1 52.7h0.7M290.1 52.2h0.7M285.9 50.8h0.7M315.0 60.7h0.7M299.7 70.0h0.7M297.4 51.9h0.7M307.9 54.3h0.7M294.0 50.4h0.7M291.2 71.0h0.7M297.4 50.8h0.7M311.3 66.3h0.7M313.9 56.3h0.7M283.8 71.0h0.7M284.7 51.8h0.7M315.7 61.7h0.7M298.6 51.3h0.7M292.3 55.2h0.7M282.2 72.9h0.7M293.5 69.3h0.7M307.8 55.0h0.7M281.6 70.2h0.7M291.6 51.2h0.7M312.3 63.2h0.7M311.9 56.3h0.7M310.3 57.5h0.7M289.0 71.7h0.7M302.4 69.4h0.7M297.0 51.6h0.7M294.3 71.5h0.7M288.0 52.5h0.7M296.3 71.9h0.7M309.9 65.3h0.7M299.9 52.3h0.7M292.1 72.9h0.7M313.2 65.1h0.7M306.9 68.0h0.7M290.7 51.8h0.7M292.2 52.6h0.7M284.4 71.4h0.7M309.2 55.0h0.7M310.8 65.5h0.7M302.2 50.7h0.7M309.4 67.9h0.7M299.5 71.6h0.7M281.4 71.5h0.7M281.0 50.7h0.7M310.4 55.3h0.7M300.7 49.5h0.7M312.6 60.6h0.7M287.4 69.3h0.7M297.0 71.3h0.7M305.1 70.6h0.7M307.1 52.5h0.7M306.5 50.7h0.7M296.7 73.2h0.7M283.9 51.4h0.7M305.7 55.1h0.7M313.7 57.1h0.7M308.1 54.4h0.7M316.4 57.7h0.7M284.7 72.5h0.7M292.0 72.1h0.7M296.7 52.3h0.7M302.1 70.8h0.7M302.7 69.9h0.7M286.7 51.1h0.7M284.4 53.0h0.7M291.5 51.5h0.7M284.1 51.5h0.7M291.8 71.8h0.7M283.3 51.1h0.7M307.0 52.3h0.7M304.6 69.4h0.7M304.5 70.2h0.7M290.9 72.4h0.7M306.8 69.1h0.7M293.5 51.3h0.7M316.0 61.8h0.7M312.0 57.8h0.7M311.9 65.8h0.7M311.7 62.4h0.7M280.4 72.4h0.7M283.0 70.3h0.7M290.3 50.6h0.7M289.7 52.0h0.7M309.5 54.0h0.7M310.8 56.6h0.7M309.0 54.7h0.7M298.8 49.4h0.7M302.7 70.8h0.7M293.9 55.5h0.7M309.5 67.1h0.7M315.1 62.2h0.7M313.9 55.7h0.7M301.0 52.1h0.7M282.8 72.8h0.7M277.7 51.8h0.7M280.0 52.6h0.7M314.3 60.2h0.7M304.4 53.0h0.7M310.2 68.3h0.7M303.4 70.9h0.7M309.1 67.8h0.7M291.0 71.0h0.7M293.5 70.2h0.7M286.7 72.6h0.7M305.3 52.7h0.7M291.6 51.3h0.7M281.8 51.2h0.7M313.7 58.9h0.7M316.3 61.0h0.7M313.8 60.8h0.7M300.8 70.0h0.7M303.8 52.2h0.7M290.2 48.5h0.7M290.7 74.6h0.7M311.9 58.1h0.7M310.7 66.1h0.7M304.9 51.7h0.7M305.0 71.7h0.7M304.6 52.0h0.7M309.8 54.7h0.7M298.8 71.2h0.7M317.3 62.3h0.7M285.3 50.2h0.7M289.8 50.6h0.7M308.7 68.6h0.7M305.7 52.7h0.7M314.1 62.4h0.7M290.1 52.6h0.7M303.5 71.1h0.7M287.6 52.1h0.7M294.9 72.7h0.7M299.2 71.7h0.7M281.2 71.3h0.7M300.6 52.0h0.7M297.1 70.3h0.7M311.5 53.1h0.7M292.9 50.7h0.7M279.5 70.6h0.7M299.3 71.7h0.7M316.4 62.8h0.7M289.3 71.4h0.7M294.2 50.9h0.7M286.6 73.0h0.7M312.3 58.8h0.7M308.2 54.4h0.7M301.6 52.0h0.7M314.7 60.6h0.7M314.7 62.9h0.7M313.6 59.1h0.7M299.6 71.0h0.7M280.5 51.1h0.7M312.7 65.6h0.7M300.2 71.8h0.7M296.0 50.4h0.7M278.3 49.3h0.7M280.8 71.1h0.7M313.8 61.3h0.7M311.0 57.1h0.7M309.1 65.2h0.7M291.1 52.9h0.7M290.8 49.4h0.7M307.9 70.2h0.7M296.4 72.9h0.7M311.6 65.9h0.7M302.8 69.3h0.7M309.4 66.1h0.7M286.1 51.0h0.7M281.0 74.3h0.7M306.1 54.1h0.7M306.3 52.4h0.7M286.2 51.8h0.7M314.5 60.8h0.7M302.8 70.8h0.7M304.3 72.4h0.7M280.5 51.7h0.7M279.8 71.3h0.7M281.0 73.2h0.7M279.1 49.4h0.7M310.7 53.4h0.7M315.6 61.9h0.7M282.9 51.0h0.7M293.1 51.2h0.7M302.6 51.5h0.7M316.3 64.5h0.7M297.9 50.2h0.7M280.6 73.6h0.7M285.6 51.0h0.7M281.4 51.9h0.7M308.6 52.1h0.7M305.0 52.4h0.7M313.0 64.2h0.7M282.5 68.5h0.7M307.0 68.7h0.7M315.8 59.0h0.7M306.5 69.3h0.7M279.1 52.2h0.7M287.5 52.0h0.7M277.7 69.7h0.7M296.1 50.4h0.7M290.1 72.8h0.7M314.6 63.8h0.7M301.4 67.8h0.7M305.6 70.7h0.7M308.6 64.7h0.7M313.3 64.8h0.7M313.9 58.4h0.7M316.2 60.5h0.7M287.3 53.7h0.7M286.2 72.9h0.7M316.1 60.9h0.7M312.6 64.0h0.7M282.2 50.3h0.7M291.2 50.2h0.7M285.9 70.8h0.7M296.9 71.9h0.7M306.5 53.4h0.7M309.9 65.4h0.7M306.1 51.9h0.7M311.8 58.6h0.7M308.9 67.8h0.7M305.1 69.2h0.7M305.6 69.9h0.7M306.0 53.4h0.7M283.1 70.3h0.7M307.0 52.4h0.7M286.2 71.9h0.7M299.6 69.4h0.7M289.5 51.9h0.7M297.3 55.6h0.7M314.0 64.1h0.7M296.7 52.0h0.7M279.8 70.7h0.7M289.5 50.9h0.7M286.9 50.2h0.7M278.1 72.3h0.7M277.9 51.1h0.7M288.3 74.3h0.7M306.2 50.9h0.7M282.5 71.3h0.7M299.8 52.1h0.7M301.8 54.1h0.7M277.1 51.5h0.7M290.8 50.5h0.7M300.5 73.5h0.7M304.3 52.7h0.7M295.6 52.1h0.7M279.6 72.7h0.7M298.9 71.6h0.7M288.4 72.5h0.7M293.1 48.0h0.7M309.7 54.2h0.7M294.4 52.3h0.7M298.9 51.0h0.7M309.2 54.5h0.7M279.7 70.6h0.7M294.6 53.5h0.7M282.3 72.0h0.7M296.0 52.1h0.7M287.1 49.4h0.7M302.5 53.0h0.7M300.6 71.8h0.7M287.7 51.7h0.7M283.7 51.1h0.7M287.0 70.7h0.7M314.7 61.2h0.7M312.9 59.2h0.7M314.9 55.2h0.7M300.5 70.5h0.7M284.4 52.7h0.7M297.2 68.8h0.7M296.2 71.9h0.7M313.7 62.5h0.7M283.8 71.3h0.7M299.3 71.0h0.7M282.3 70.3h0.7M280.3 73.5h0.7M312.7 64.7h0.7M311.6 65.3h0.7M287.2 71.7h0.7M311.8 64.4h0.7M287.6 54.1h0.7M292.6 71.3h0.7M317.0 61.8h0.7M311.5 65.9h0.7M309.3 70.6h0.7M294.1 49.7h0.7M293.8 51.7h0.7M292.5 51.5h0.7M303.6 70.5h0.7M309.4 55.4h0.7M299.4 70.8h0.7M310.0 55.7h0.7M279.5 51.1h0.7M292.2 73.1h0.7M304.1 69.9h0.7M290.3 50.0h0.7M289.1 51.9h0.7M279.1 50.0h0.7M286.8 71.9h0.7M291.8 72.9h0.7M303.0 52.2h0.7M291.9 74.0h0.7M290.6 51.0h0.7M304.4 69.4h0.7M284.8 75.6h0.7M312.1 64.4h0.7M278.0 70.5h0.7M297.1 50.3h0.7M280.4 70.5h0.7M302.1 73.0h0.7M301.9 71.2h0.7M286.8 53.3h0.7M296.9 70.4h0.7M283.6 72.5h0.7M312.4 59.8h0.7M291.7 70.7h0.7M310.5 67.2h0.7M315.5 65.0h0.7M293.6 71.1h0.7M297.4 49.2h0.7M310.0 67.4h0.7M295.8 51.6h0.7M309.1 53.5h0.7M301.5 70.7h0.7M316.6 60.7h0.7M287.8 68.8h0.7M280.5 51.8h0.7M297.7 73.1h0.7M308.0 69.9h0.7M305.1 54.3h0.7M308.4 70.5h0.7M286.6 52.2h0.7M287.6 70.5h0.7M298.1 70.7h0.7M316.9 62.2h0.7M312.7 59.0h0.7M312.5 54.3h0.7M310.0 68.7h0.7M286.5 50.7h0.7M304.2 70.2h0.7M284.7 70.8h0.7M281.8 50.3h0.7M309.2 56.1h0.7M288.8 50.0h0.7M311.9 55.9h0.7M291.2 52.8h0.7M304.1 68.4h0.7M307.5 51.7h0.7M300.3 52.7h0.7M292.8 71.1h0.7M291.9 71.2h0.7M303.1 51.3h0.7M314.8 60.4h0.7M287.9 53.3h0.7M296.4 71.9h0.7M280.2 73.7h0.7M312.1 64.7h0.7M286.3 49.4h0.7M282.4 51.1h0.7M312.3 59.0h0.7M313.9 66.2h0.7M315.8 63.5h0.7M291.9 52.1h0.7M298.9 72.2h0.7M280.1 71.2h0.7M309.3 67.9h0.7M306.6 70.2h0.7M304.9 70.0h0.7M299.0 71.7h0.7M281.3 51.7h0.7M286.4 71.9h0.7M281.0 52.0h0.7M294.1 50.8h0.7M309.0 70.1h0.7M289.9 54.6h0.7M298.4 52.0h0.7M277.5 71.6h0.7M304.6 68.5h0.7M309.3 54.3h0.7M310.7 63.2h0.7M296.3 72.7h0.7M309.8 67.0h0.7M278.0 72.0h0.7M293.3 51.5h0.7M286.9 50.1h0.7M296.4 70.9h0.7M305.1 69.3h0.7M295.6 52.3h0.7M286.3 71.3h0.7M301.0 71.6h0.7M277.4 50.8h0.7M313.1 59.0h0.7M294.4 50.7h0.7M317.0 60.7h0.7M300.5 71.9h0.7M282.7 52.1h0.7M310.6 57.0h0.7M302.7 52.5h0.7M308.4 52.4h0.7M285.5 70.6h0.7M312.4 55.9h0.7M289.9 53.3h0.7M283.5 52.9h0.7M302.5 70.6h0.7M311.0 56.4h0.7M312.4 55.9h0.7M303.7 50.5h0.7M312.0 60.5h0.7M290.6 73.5h0.7M301.4 53.8h0.7M308.9 52.9h0.7M289.8 72.7h0.7M282.4 49.5h0.7M312.0 61.3h0.7M309.0 55.4h0.7M285.2 70.4h0.7M301.3 69.7h0.7M285.5 49.3h0.7M312.9 60.7h0.7M294.1 53.1h0.7M279.9 73.0h0.7M316.6 61.8h0.7M303.0 51.6h0.7M306.9 52.7h0.7M278.8 71.1h0.7M311.2 63.7h0.7M309.4 67.4h0.7M306.7 68.6h0.7M307.0 69.5h0.7M312.3 64.0h0.7M275.9 51.3h0.7M292.1 53.5h0.7M311.7 58.2h0.7M288.0 72.5h0.7M301.0 71.7h0.7M304.1 52.5h0.7M281.1 53.6h0.7M280.7 72.5h0.7M306.4 53.3h0.7M294.8 72.8h0.7M300.2 51.1h0.7M315.7 60.9h0.7M296.1 52.3h0.7M305.2 72.6h0.7M290.4 51.4h0.7M310.2 67.1h0.7" stroke="#111" stroke-width="0.72" opacity="1" fill="none"/>
<path d="M324.9 73.9h0.7M323.4 61.7h0.7M326.8 65.9h0.7M323.4 73.0h0.7M327.6 60.2h0.7M321.5 56.3h0.7M322.4 60.2h0.7M319.9 63.3h0.7M318.1 59.4h0.7M328.7 63.2h0.7M312.5 66.1h0.7M314.0 60.8h0.7M323.6 64.2h0.7M319.6 71.0h0.7M326.1 60.8h0.7M320.4 57.6h0.7M322.3 66.7h0.7M312.7 60.3h0.7M313.3 67.4h0.7M317.8 67.4h0.7M322.5 68.1h0.7M317.9 63.0h0.7M320.6 63.8h0.7M319.5 59.9h0.7M323.8 62.6h0.7M327.6 65.1h0.7M313.3 69.8h0.7M317.3 59.8h0.7M316.0 58.2h0.7M318.4 66.6h0.7M316.3 59.2h0.7M322.8 64.8h0.7M318.0 64.8h0.7M315.0 63.3h0.7M317.6 71.2h0.7M319.9 62.3h0.7M320.4 67.2h0.7M318.3 66.9h0.7M322.1 66.9h0.7M320.2 62.7h0.7M320.7 57.6h0.7M319.9 64.5h0.7M321.7 62.1h0.7M319.9 67.8h0.7M323.5 53.6h0.7M328.4 59.6h0.7M323.2 59.8h0.7M323.4 65.1h0.7M321.6 65.7h0.7M322.9 67.0h0.7M324.0 65.2h0.7M322.3 61.4h0.7M328.0 64.7h0.7M318.8 63.7h0.7M326.9 58.9h0.7M330.2 70.8h0.7M313.7 61.0h0.7M320.3 65.1h0.7M317.8 57.2h0.7M320.6 65.1h0.7M316.2 62.3h0.7M314.4 71.5h0.7M317.7 63.1h0.7M317.5 57.2h0.7M312.8 65.0h0.7M324.0 65.3h0.7M318.4 68.5h0.7M317.5 63.8h0.7M319.4 62.6h0.7M319.9 70.0h0.7M324.4 64.6h0.7M323.0 57.2h0.7M317.9 65.9h0.7M320.0 54.9h0.7M324.5 66.3h0.7M312.7 62.0h0.7M322.7 72.0h0.7M313.1 58.9h0.7M327.2 61.8h0.7M318.0 60.7h0.7M319.3 68.3h0.7M322.5 58.4h0.7M318.1 73.6h0.7M315.3 58.0h0.7M312.6 64.9h0.7M315.0 67.1h0.7M322.1 67.9h0.7M313.0 67.8h0.7M321.8 66.5h0.7M316.5 60.0h0.7M320.7 63.4h0.7M320.1 59.8h0.7M315.0 63.5h0.7M322.1 64.1h0.7M321.4 73.0h0.7M321.5 67.4h0.7M312.8 61.5h0.7M317.4 60.9h0.7M319.6 64.6h0.7M321.3 59.8h0.7M319.1 67.0h0.7M317.2 64.1h0.7M318.9 65.9h0.7M322.2 69.1h0.7M318.9 65.9h0.7M321.2 62.9h0.7M316.4 66.0h0.7M323.9 65.3h0.7M312.9 66.5h0.7M319.7 68.4h0.7M325.8 60.3h0.7M316.7 65.0h0.7M322.6 53.9h0.7M320.6 72.8h0.7M316.0 67.7h0.7M323.7 64.5h0.7M320.2 67.0h0.7M325.6 54.2h0.7M316.2 71.4h0.7M317.9 69.6h0.7M323.7 73.3h0.7M313.4 63.4h0.7M321.7 58.7h0.7M312.1 64.4h0.7M313.5 64.9h0.7M319.1 66.5h0.7M322.2 75.8h0.7M319.2 63.5h0.7M322.5 69.5h0.7M321.6 63.0h0.7M324.9 51.9h0.7M319.7 52.9h0.7M314.8 68.3h0.7M316.5 56.6h0.7M318.1 55.8h0.7M315.4 70.8h0.7M316.9 69.6h0.7M325.4 58.2h0.7M319.1 61.6h0.7M322.4 67.3h0.7M319.3 63.1h0.7M318.6 62.1h0.7M321.4 67.4h0.7M312.4 61.9h0.7M323.4 62.9h0.7M328.5 68.6h0.7M319.4 61.7h0.7M317.7 66.4h0.7M316.1 65.1h0.7M326.9 56.7h0.7" stroke="#444" stroke-width="0.66" opacity="1" fill="none"/>
<path d="M333.2 66.6h0.6M338.0 57.7h0.6M326.4 62.3h0.6M319.4 60.6h0.6M323.1 73.8h0.6M330.2 69.9h0.6M328.6 63.1h0.6M325.0 61.9h0.6M325.7 63.2h0.6M335.2 72.6h0.6M326.8 72.1h0.6M319.6 69.6h0.6M334.8 62.1h0.6M320.6 70.5h0.6M324.2 66.1h0.6M324.4 75.8h0.6M335.2 65.0h0.6M331.3 83.2h0.6M328.3 63.9h0.6M325.9 69.2h0.6M327.3 63.8h0.6M331.8 59.5h0.6M328.4 60.4h0.6M327.1 69.6h0.6M326.1 67.5h0.6M315.9 66.8h0.6M331.4 73.0h0.6M323.4 67.1h0.6M329.7 75.9h0.6M328.7 71.1h0.6M329.8 81.9h0.6M329.5 66.2h0.6M321.0 65.3h0.6M331.9 68.9h0.6M326.2 67.0h0.6M332.1 66.7h0.6M317.9 80.0h0.6M329.2 70.4h0.6M321.4 68.9h0.6M323.4 75.2h0.6M333.4 66.1h0.6M333.0 69.6h0.6M331.2 62.9h0.6M331.6 69.7h0.6M327.9 73.5h0.6M323.0 76.1h0.6M326.6 66.2h0.6M334.4 76.8h0.6M335.1 60.5h0.6M331.4 76.3h0.6M335.7 72.1h0.6M329.2 79.3h0.6M331.0 62.4h0.6M324.6 53.7h0.6M334.3 62.6h0.6M322.4 64.2h0.6M325.5 65.0h0.6M324.4 68.7h0.6M335.1 72.9h0.6M323.0 69.8h0.6M332.1 66.4h0.6M319.7 66.3h0.6M335.3 85.5h0.6M327.7 55.4h0.6M322.6 80.6h0.6M328.7 71.1h0.6M329.4 69.3h0.6M326.4 66.2h0.6M321.1 69.2h0.6M326.7 66.2h0.6M324.0 53.1h0.6M325.1 73.8h0.6M326.7 62.9h0.6M328.3 74.7h0.6M332.0 74.1h0.6M313.3 78.0h0.6M331.5 57.6h0.6M319.9 74.0h0.6M331.6 71.6h0.6M330.5 74.2h0.6M319.5 72.7h0.6M322.8 65.4h0.6M332.2 63.5h0.6M328.7 58.5h0.6M334.8 67.1h0.6M317.5 62.5h0.6M327.3 69.8h0.6M330.9 59.5h0.6M327.0 57.2h0.6M331.1 79.7h0.6M317.1 56.9h0.6M314.8 63.9h0.6M330.7 69.3h0.6M317.9 65.1h0.6M325.1 69.5h0.6M328.9 66.5h0.6M330.6 65.2h0.6M324.6 60.3h0.6M327.5 73.3h0.6M327.4 75.4h0.6M325.6 75.4h0.6M326.3 71.0h0.6M325.3 63.6h0.6M333.3 66.1h0.6M326.2 77.5h0.6M332.1 64.6h0.6M326.4 62.6h0.6M332.5 67.8h0.6M327.6 68.1h0.6M318.2 65.8h0.6M325.5 74.0h0.6M321.8 71.1h0.6M330.0 75.0h0.6M326.2 66.8h0.6M330.7 64.8h0.6M322.5 68.7h0.6M323.9 62.6h0.6M321.2 65.0h0.6M324.2 67.9h0.6M333.8 67.3h0.6" stroke="#777" stroke-width="0.60" opacity="1" fill="none"/>
<path d="M314.3 95.5h0.6M317.1 95.6h0.6M317.3 83.8h0.6M315.7 79.1h0.6M325.5 105.1h0.6M326.3 78.5h0.6M319.0 86.0h0.6M316.6 79.5h0.6M320.3 71.3h0.6M321.9 95.6h0.6M326.7 80.2h0.6M326.4 80.4h0.6M326.6 83.0h0.6M312.0 96.3h0.6M323.1 88.7h0.6M321.9 82.2h0.6M319.6 80.0h0.6M321.1 90.4h0.6M323.9 79.2h0.6M329.3 82.3h0.6M318.9 77.9h0.6M330.8 75.0h0.6M330.3 76.2h0.6M311.1 78.4h0.6M326.1 90.1h0.6M316.7 87.7h0.6M319.0 85.0h0.6M327.2 82.6h0.6M327.5 83.4h0.6M327.6 99.7h0.6M316.9 90.8h0.6M319.0 99.3h0.6M325.1 82.4h0.6M321.5 95.1h0.6M311.7 93.5h0.6M318.5 85.7h0.6M317.6 82.9h0.6M324.2 90.0h0.6M316.3 79.5h0.6M323.1 90.8h0.6M313.5 85.1h0.6M318.4 78.1h0.6M322.2 82.2h0.6M323.1 87.9h0.6M315.2 98.9h0.6" stroke="#888" stroke-width="0.60" opacity="1" fill="none"/>
<path d="M265.9 52.2C267.9 48.9 274.0 51.7 278.0 51.5C282.0 51.3 286.3 51.2 290.0 51.2C293.7 51.2 297.2 51.2 300.0 51.5C302.8 51.8 305.2 52.2 307.0 53.0C308.8 53.8 309.5 54.9 311.0 56.3C312.5 57.7 315.9 60.0 316.0 61.5C316.1 63.0 313.0 64.2 311.5 65.5C310.0 66.8 308.9 68.5 307.0 69.5C305.1 70.5 302.8 70.9 300.0 71.3C297.2 71.7 293.7 71.7 290.0 71.8C286.3 71.9 282.0 71.9 278.0 71.8C274.0 71.7 267.9 74.5 265.9 71.2C263.9 67.9 263.9 55.5 265.9 52.2Z" fill="#050505" filter="url(#bl0)"/>
<path d="M268.9 56.8C270.8 55.0 276.1 56.6 280.0 56.5C283.9 56.4 289.1 56.0 292.0 56.3C294.9 56.5 296.0 57.0 297.5 58.0C299.0 59.0 300.8 60.8 300.8 62.2C300.8 63.6 299.0 65.3 297.5 66.3C296.0 67.3 294.9 67.8 292.0 68.0C289.1 68.2 283.9 67.9 280.0 67.8C276.1 67.7 270.8 69.2 268.9 67.4C267.0 65.6 267.0 58.6 268.9 56.8Z" fill="#3a3a3a" stroke="#d0d0d0" stroke-width="0.85"/>
<path d="M272.0 59.4C273.4 58.4 277.7 59.3 280.7 59.2C283.7 59.2 287.7 59.0 290.0 59.1C292.3 59.3 293.2 59.5 294.3 60.0C295.5 60.5 296.9 61.5 296.9 62.2C296.9 62.9 295.5 63.8 294.3 64.3C293.2 64.8 292.3 65.1 290.0 65.2C287.7 65.3 283.7 65.2 280.7 65.1C277.7 65.1 273.4 65.9 272.0 64.9C270.6 64.0 270.6 60.3 272.0 59.4Z" fill="#4a4a4a" stroke="#aaa" stroke-width="0.6"/>
<path d="M279.9 62.3H294" stroke="#bbb" stroke-width="0.6"/>
<path d="M316 115h8" stroke="#444" stroke-width="0.8" stroke-dasharray="2 1"/>
</g>
<path d="M267.9 47.1L311.5 47.1L311.5 66.7L304.5 73.4L267.9 73.4Z" stroke="#333" stroke-width="0.95" fill="none"/>
<path d="M305.2 76.3L311.8 70.0L335.9 70.0L335.9 115L305.2 115Z" stroke="#333" stroke-width="0.95" fill="none"/>
</g>
<text x="84.1" y="85.3" font-size="10.08" textLength="10.7" lengthAdjust="spacingAndGlyphs">26</text>
<text x="108.8" y="110.7" font-size="10.08" textLength="10.7" lengthAdjust="spacingAndGlyphs">73</text>
<text x="84.1" y="170.4" font-size="10.08" textLength="10.7" lengthAdjust="spacingAndGlyphs">29</text>
<text x="108.2" y="196.6" font-size="10.08" textLength="10.7" lengthAdjust="spacingAndGlyphs">69</text>
<text x="177.5" y="88" font-size="10.08" textLength="10.7" lengthAdjust="spacingAndGlyphs">21</text>
<text x="199.3" y="110.7" font-size="10.08" textLength="10.7" lengthAdjust="spacingAndGlyphs">79</text>
<text x="178" y="173.8" font-size="10.08" textLength="16.0" lengthAdjust="spacingAndGlyphs">100</text>
<text x="204.2" y="196.4" font-size="10.08" textLength="5.3" lengthAdjust="spacingAndGlyphs">0</text>
<text x="271.1" y="83.2" font-size="10.08" textLength="10.7" lengthAdjust="spacingAndGlyphs">25</text>
<text x="291.1" y="111.1" font-size="10.08" textLength="10.7" lengthAdjust="spacingAndGlyphs">74</text>
<text x="271.6" y="170.2" font-size="10.08" textLength="16.0" lengthAdjust="spacingAndGlyphs">100</text>
<text x="278.6" y="196.5" font-size="10.08" textLength="24.3" lengthAdjust="spacingAndGlyphs">&lt;0.01</text>
<text x="1.6" y="236" font-size="24" class="b">B</text>
<text x="162.9" y="245" font-size="10.19" textLength="125.0" lengthAdjust="spacingAndGlyphs" class="m">WT (CD45.2) + WT (CD45.1)</text>
<path d="M31.7 246.0V378.2H293.6M31.7 378.2h-2.2M31.7 351.9h-2.2M31.7 325.5h-2.2M31.7 299.2h-2.2M31.7 272.8h-2.2M31.7 246.5h-2.2M57.8 378.2v2M84.0 378.2v2M110.1 378.2v2M136.2 378.2v2M162.3 378.2v2M188.5 378.2v2M214.6 378.2v2M240.7 378.2v2M266.9 378.2v2M293.0 378.2v2" stroke="#111" stroke-width="1.4" fill="none"/>
<text x="26.8" y="378.7" font-size="10.19" textLength="5.4" lengthAdjust="spacingAndGlyphs" class="e">0</text>
<text x="26.8" y="355.4" font-size="10.19" textLength="10.8" lengthAdjust="spacingAndGlyphs" class="e">20</text>
<text x="26.8" y="329.0" font-size="10.19" textLength="10.8" lengthAdjust="spacingAndGlyphs" class="e">40</text>
<text x="26.8" y="302.7" font-size="10.19" textLength="10.8" lengthAdjust="spacingAndGlyphs" class="e">60</text>
<text x="26.8" y="276.3" font-size="10.19" textLength="10.8" lengthAdjust="spacingAndGlyphs" class="e">80</text>
<text x="26.8" y="250.0" font-size="10.19" textLength="16.2" lengthAdjust="spacingAndGlyphs" class="e">100</text>
<text x="0" y="0" font-size="10.19" textLength="97.6" lengthAdjust="spacingAndGlyphs" class="m" transform="translate(9.2,311.8) rotate(-90)">CD45.2 chimerism (%)</text>
<path d="M45.9 271.3L72.0 270.3L98.1 269.2L124.3 274.2L150.4 264.9L176.5 258.6L202.6 268.4L228.7 274.2" stroke="#111" stroke-width="1.1" fill="none"/>
<path d="M45.9 267.4V275.1M43.8 267.4h4.2M43.8 275.1h4.2M72.0 266.8V273.9M69.9 266.8h4.2M69.9 273.9h4.2M98.1 263.8V274.6M96.0 263.8h4.2M96.0 274.6h4.2M124.3 265.5V282.8M122.2 265.5h4.2M122.2 282.8h4.2M150.4 260.7V269.2M148.3 260.7h4.2M148.3 269.2h4.2M176.5 254.9V262.3M174.4 254.9h4.2M174.4 262.3h4.2M202.6 262.3V274.4M200.5 262.3h4.2M200.5 274.4h4.2M228.7 261.9V286.4M226.6 261.9h4.2M226.6 286.4h4.2" stroke="#222" stroke-width="0.9" fill="none"/>
<rect x="42.7" y="268.0" width="6.4" height="6.6" fill="#000"/>
<rect x="68.8" y="267.0" width="6.4" height="6.6" fill="#000"/>
<rect x="94.9" y="265.9" width="6.4" height="6.6" fill="#000"/>
<rect x="121.1" y="270.9" width="6.4" height="6.6" fill="#000"/>
<rect x="147.2" y="261.6" width="6.4" height="6.6" fill="#000"/>
<rect x="173.3" y="255.3" width="6.4" height="6.6" fill="#000"/>
<rect x="199.4" y="265.1" width="6.4" height="6.6" fill="#000"/>
<rect x="225.5" y="270.9" width="6.4" height="6.6" fill="#000"/>
<rect x="277.8" y="271.5" width="6.4" height="6.6" fill="#000"/>
<text x="46.0" y="392.5" font-size="10.19" textLength="20.5" lengthAdjust="spacingAndGlyphs" class="m">HSC</text>
<text x="72.1" y="392.5" font-size="10.19" textLength="21.0" lengthAdjust="spacingAndGlyphs" class="m">MPP</text>
<text x="98.2" y="392.5" font-size="10.19" textLength="26.4" lengthAdjust="spacingAndGlyphs" class="m">LMPP</text>
<text x="124.4" y="392.5" font-size="10.19" textLength="18.9" lengthAdjust="spacingAndGlyphs" class="m">CLP</text>
<text x="150.5" y="392.5" font-size="10.19" textLength="18.9" lengthAdjust="spacingAndGlyphs" class="m">ETP</text>
<text x="176.6" y="392.5" font-size="10.19" textLength="19.4" lengthAdjust="spacingAndGlyphs" class="m">DN2</text>
<text x="202.7" y="392.5" font-size="10.19" textLength="19.4" lengthAdjust="spacingAndGlyphs" class="m">DN3</text>
<text x="228.8" y="392.5" font-size="10.19" textLength="13.5" lengthAdjust="spacingAndGlyphs" class="m">DP</text>
<text x="281.1" y="392.5" font-size="10.19" textLength="24.8" lengthAdjust="spacingAndGlyphs" class="m">Blood</text>
<text x="281.1" y="403.0" font-size="10.19" textLength="18.3" lengthAdjust="spacingAndGlyphs" class="m">LSK</text>
<path d="M36.7 405.5h95.8v18.4h-95.8zM140.6 405.5h98.7v18.4h-98.7zM267.6 405.5h27.1v18.4h-27.1z" fill="#d0d0d0"/>
<text x="84.6" y="418.2" font-size="10.19" textLength="14.6" lengthAdjust="spacingAndGlyphs" class="m">BM</text>
<text x="189.6" y="418.2" font-size="10.19" textLength="34.5" lengthAdjust="spacingAndGlyphs" class="m">Thymus</text>
<text x="281.1" y="418.2" font-size="10.19" textLength="24.8" lengthAdjust="spacingAndGlyphs" class="m">Blood</text>
<text x="162.9" y="446.5" font-size="10.19" textLength="189.3" lengthAdjust="spacingAndGlyphs" class="m">CCR7/CCR9 DKO (CD45.2) + WT (CD45.1)</text>
<path d="M31.7 447.8V581.9H293.6M31.7 581.9h-2.2M31.7 555.2h-2.2M31.7 528.5h-2.2M31.7 501.7h-2.2M31.7 475.0h-2.2M31.7 448.3h-2.2M57.8 581.9v2M84.0 581.9v2M110.1 581.9v2M136.2 581.9v2M162.3 581.9v2M188.5 581.9v2M214.6 581.9v2M240.7 581.9v2M266.9 581.9v2M293.0 581.9v2" stroke="#111" stroke-width="1.4" fill="none"/>
<text x="26.8" y="585.4" font-size="10.19" textLength="5.4" lengthAdjust="spacingAndGlyphs" class="e">0</text>
<text x="26.8" y="558.7" font-size="10.19" textLength="10.8" lengthAdjust="spacingAndGlyphs" class="e">20</text>
<text x="26.8" y="532.0" font-size="10.19" textLength="10.8" lengthAdjust="spacingAndGlyphs" class="e">40</text>
<text x="26.8" y="505.2" font-size="10.19" textLength="10.8" lengthAdjust="spacingAndGlyphs" class="e">60</text>
<text x="26.8" y="478.5" font-size="10.19" textLength="10.8" lengthAdjust="spacingAndGlyphs" class="e">80</text>
<text x="26.8" y="451.8" font-size="10.19" textLength="16.2" lengthAdjust="spacingAndGlyphs" class="e">100</text>
<text x="0" y="0" font-size="10.19" textLength="97.6" lengthAdjust="spacingAndGlyphs" class="m" transform="translate(9.2,514.5) rotate(-90)">CD45.2 chimerism (%)</text>
<path d="M45.9 482.1L72.0 482.5L98.1 485.7L124.3 491.7L150.4 581.9L176.5 581.9L202.6 581.9L228.7 581.9" stroke="#111" stroke-width="1.1" fill="none"/>
<path d="M45.9 476.8V487.4M43.8 476.8h4.2M43.8 487.4h4.2M72.0 476.5V488.5M69.9 476.5h4.2M69.9 488.5h4.2M98.1 477.7V493.7M96.0 477.7h4.2M96.0 493.7h4.2M124.3 479.0V504.4M122.2 479.0h4.2M122.2 504.4h4.2" stroke="#222" stroke-width="0.9" fill="none"/>
<rect x="42.7" y="478.8" width="6.4" height="6.6" fill="#000"/>
<rect x="68.8" y="479.2" width="6.4" height="6.6" fill="#000"/>
<rect x="94.9" y="482.4" width="6.4" height="6.6" fill="#000"/>
<rect x="121.1" y="488.4" width="6.4" height="6.6" fill="#000"/>
<rect x="147.2" y="578.6" width="6.4" height="6.6" fill="#000"/>
<rect x="173.3" y="578.6" width="6.4" height="6.6" fill="#000"/>
<rect x="199.4" y="578.6" width="6.4" height="6.6" fill="#000"/>
<rect x="225.5" y="578.6" width="6.4" height="6.6" fill="#000"/>
<rect x="277.8" y="467.0" width="6.4" height="6.6" fill="#000"/>
<text x="46.0" y="594.5" font-size="10.19" textLength="20.5" lengthAdjust="spacingAndGlyphs" class="m">HSC</text>
<text x="72.1" y="594.5" font-size="10.19" textLength="21.0" lengthAdjust="spacingAndGlyphs" class="m">MPP</text>
<text x="98.2" y="594.5" font-size="10.19" textLength="26.4" lengthAdjust="spacingAndGlyphs" class="m">LMPP</text>
<text x="124.4" y="594.5" font-size="10.19" textLength="18.9" lengthAdjust="spacingAndGlyphs" class="m">CLP</text>
<text x="150.5" y="594.5" font-size="10.19" textLength="18.9" lengthAdjust="spacingAndGlyphs" class="m">ETP</text>
<text x="176.6" y="594.5" font-size="10.19" textLength="19.4" lengthAdjust="spacingAndGlyphs" class="m">DN2</text>
<text x="202.7" y="594.5" font-size="10.19" textLength="19.4" lengthAdjust="spacingAndGlyphs" class="m">DN3</text>
<text x="228.8" y="594.5" font-size="10.19" textLength="13.5" lengthAdjust="spacingAndGlyphs" class="m">DP</text>
<text x="281.1" y="594.5" font-size="10.19" textLength="24.8" lengthAdjust="spacingAndGlyphs" class="m">Blood</text>
<text x="281.1" y="605.0" font-size="10.19" textLength="18.3" lengthAdjust="spacingAndGlyphs" class="m">LSK</text>
<text x="153" y="572.5" font-size="8.4" class="m" style="stroke-width:.7px">**</text>
<text x="177.3" y="572.5" font-size="8.4" class="m" style="stroke-width:.7px">**</text>
<text x="202.2" y="572.5" font-size="8.4" class="m" style="stroke-width:.7px">**</text>
<text x="228" y="572.5" font-size="8.4" class="m" style="stroke-width:.7px">**</text>
<path d="M36.7 607.7h95.8v18.4h-95.8zM140.6 607.7h98.7v18.4h-98.7zM267.6 607.7h27.1v18.4h-27.1z" fill="#d0d0d0"/>
<text x="84.6" y="620.4" font-size="10.19" textLength="14.6" lengthAdjust="spacingAndGlyphs" class="m">BM</text>
<text x="189.6" y="620.4" font-size="10.19" textLength="34.5" lengthAdjust="spacingAndGlyphs" class="m">Thymus</text>
<text x="281.1" y="620.4" font-size="10.19" textLength="24.8" lengthAdjust="spacingAndGlyphs" class="m">Blood</text>
<text x="2" y="655" font-size="24" class="b">C</text>
<text x="132.1" y="653.8" font-size="10.19" textLength="86.3" lengthAdjust="spacingAndGlyphs" class="m">Intravenous transfer</text>
<text x="404.8" y="653.8" font-size="10.19" textLength="83.0" lengthAdjust="spacingAndGlyphs" class="m">Intrathymic transfer</text>
<text x="20.2" y="776.8" font-size="10.19" textLength="5.4" lengthAdjust="spacingAndGlyphs" class="e">0</text>
<text x="20.2" y="752.0" font-size="10.19" textLength="5.4" lengthAdjust="spacingAndGlyphs" class="e">2</text>
<text x="20.2" y="727.1" font-size="10.19" textLength="5.4" lengthAdjust="spacingAndGlyphs" class="e">4</text>
<text x="20.2" y="702.3" font-size="10.19" textLength="5.4" lengthAdjust="spacingAndGlyphs" class="e">6</text>
<text x="20.2" y="677.5" font-size="10.19" textLength="5.4" lengthAdjust="spacingAndGlyphs" class="e">8</text>
<path d="M24 673.5V773.3H115.8M24 773.3h-2.2M24 748.5h-2.2M24 723.6h-2.2M24 698.8h-2.2M24 674.0h-2.2M69.9 773.3v2M115.3 773.3v2" stroke="#111" stroke-width="1.4" fill="none"/>
<rect x="37" y="701.9" width="19.3" height="71.4" fill="#000"/>
<path d="M46.6 701.9V695.7M44.9 695.7h3.4" stroke="#222" stroke-width="0.9" fill="none"/>
<rect x="83.2" y="687.3" width="19.3" height="86.0" fill="#000"/>
<path d="M92.8 687.3V684.1M91.1 684.1h3.4" stroke="#222" stroke-width="0.9" fill="none"/>
<text x="46.699999999999996" y="786.9" font-size="10.19" textLength="15.1" lengthAdjust="spacingAndGlyphs" class="m">WT</text>
<text x="92.9" y="786.9" font-size="10.19" textLength="21.0" lengthAdjust="spacingAndGlyphs" class="m">DKO</text>
<text x="0" y="0" font-size="10.19" textLength="112.1" lengthAdjust="spacingAndGlyphs" class="m" transform="translate(10,723.3) rotate(-90)">Donor LSK chimerism (%)</text>
<text x="153.1" y="776.8" font-size="10.19" textLength="5.4" lengthAdjust="spacingAndGlyphs" class="e">0</text>
<text x="153.1" y="752.0" font-size="10.19" textLength="16.2" lengthAdjust="spacingAndGlyphs" class="e">500</text>
<text x="153.1" y="727.1" font-size="10.19" textLength="21.6" lengthAdjust="spacingAndGlyphs" class="e">1000</text>
<text x="153.1" y="702.3" font-size="10.19" textLength="21.6" lengthAdjust="spacingAndGlyphs" class="e">1500</text>
<text x="153.1" y="677.5" font-size="10.19" textLength="21.6" lengthAdjust="spacingAndGlyphs" class="e">2000</text>
<path d="M156.9 673.5V773.3H241.8M156.9 773.3h-2.2M156.9 748.5h-2.2M156.9 723.6h-2.2M156.9 698.8h-2.2M156.9 674.0h-2.2M199.4 773.3v2M241.3 773.3v2" stroke="#111" stroke-width="1.4" fill="none"/>
<rect x="168.7" y="699.1" width="18.5" height="74.2" fill="#000"/>
<path d="M177.9 699.1V678.2M176.2 678.2h3.4" stroke="#222" stroke-width="0.9" fill="none"/>
<text x="178.4" y="786.9" font-size="10.19" textLength="15.1" lengthAdjust="spacingAndGlyphs" class="m">WT</text>
<text x="221.70000000000002" y="786.9" font-size="10.19" textLength="21.0" lengthAdjust="spacingAndGlyphs" class="m">DKO</text>
<text x="0" y="0" font-size="10.19" textLength="92.2" lengthAdjust="spacingAndGlyphs" class="m" transform="translate(127.2,723.3) rotate(-90)">Donor ETPs/recipient</text>
<text x="221.70000000000002" y="773.0" font-size="11.2" class="m" style="stroke-width:.3px;letter-spacing:.7px">**</text>
<text x="290.0" y="776.8" font-size="10.19" textLength="5.4" lengthAdjust="spacingAndGlyphs" class="e">0</text>
<text x="290.0" y="756.9" font-size="10.19" textLength="21.6" lengthAdjust="spacingAndGlyphs" class="e">1000</text>
<text x="290.0" y="737.1" font-size="10.19" textLength="21.6" lengthAdjust="spacingAndGlyphs" class="e">2000</text>
<text x="290.0" y="717.2" font-size="10.19" textLength="21.6" lengthAdjust="spacingAndGlyphs" class="e">3000</text>
<text x="290.0" y="697.4" font-size="10.19" textLength="21.6" lengthAdjust="spacingAndGlyphs" class="e">4000</text>
<text x="290.0" y="677.5" font-size="10.19" textLength="21.6" lengthAdjust="spacingAndGlyphs" class="e">5000</text>
<path d="M293.8 673.5V773.3H379.3M293.8 773.3h-2.2M293.8 753.4h-2.2M293.8 733.6h-2.2M293.8 713.7h-2.2M293.8 693.9h-2.2M293.8 674.0h-2.2M336.6 773.3v2M378.8 773.3v2" stroke="#111" stroke-width="1.4" fill="none"/>
<rect x="306.3" y="718.0" width="18.0" height="55.3" fill="#000"/>
<path d="M315.3 718.0V689.1M313.6 689.1h3.4" stroke="#222" stroke-width="0.9" fill="none"/>
<rect x="349.5" y="744.4" width="17.5" height="28.9" fill="#000"/>
<path d="M358.2 744.4V727.3M356.6 727.3h3.4" stroke="#222" stroke-width="0.9" fill="none"/>
<text x="315.4" y="786.9" font-size="10.19" textLength="15.1" lengthAdjust="spacingAndGlyphs" class="m">WT</text>
<text x="358.7" y="786.9" font-size="10.19" textLength="21.0" lengthAdjust="spacingAndGlyphs" class="m">DKO</text>
<text x="0" y="0" font-size="10.19" textLength="92.2" lengthAdjust="spacingAndGlyphs" class="m" transform="translate(263.5,723.3) rotate(-90)">Donor ETPs/recipient</text>
<text x="422.7" y="776.8" font-size="10.19" textLength="5.4" lengthAdjust="spacingAndGlyphs" class="e">0</text>
<text x="422.7" y="756.9" font-size="10.19" textLength="27.0" lengthAdjust="spacingAndGlyphs" class="e">10000</text>
<text x="422.7" y="737.1" font-size="10.19" textLength="27.0" lengthAdjust="spacingAndGlyphs" class="e">20000</text>
<text x="422.7" y="717.2" font-size="10.19" textLength="27.0" lengthAdjust="spacingAndGlyphs" class="e">30000</text>
<text x="422.7" y="697.4" font-size="10.19" textLength="27.0" lengthAdjust="spacingAndGlyphs" class="e">40000</text>
<text x="422.7" y="677.5" font-size="10.19" textLength="27.0" lengthAdjust="spacingAndGlyphs" class="e">50000</text>
<path d="M426.5 673.5V773.3H520M426.5 773.3h-2.2M426.5 753.4h-2.2M426.5 733.6h-2.2M426.5 713.7h-2.2M426.5 693.9h-2.2M426.5 674.0h-2.2M473.2 773.3v2M519.5 773.3v2" stroke="#111" stroke-width="1.4" fill="none"/>
<rect x="440.8" y="706.2" width="19.0" height="67.1" fill="#000"/>
<path d="M450.3 706.2V678.6M448.6 678.6h3.4" stroke="#222" stroke-width="0.9" fill="none"/>
<rect x="485.7" y="723.5" width="18.2" height="49.8" fill="#000"/>
<path d="M494.8 723.5V680.6M493.1 680.6h3.4" stroke="#222" stroke-width="0.9" fill="none"/>
<text x="450.4" y="786.9" font-size="10.19" textLength="15.1" lengthAdjust="spacingAndGlyphs" class="m">WT</text>
<text x="495.7" y="786.9" font-size="10.19" textLength="21.0" lengthAdjust="spacingAndGlyphs" class="m">DKO</text>
<text x="0" y="0" font-size="10.19" textLength="103.9" lengthAdjust="spacingAndGlyphs" class="m" transform="translate(392.3,723.3) rotate(-90)">Donor DP cells/recipient</text>
<path d="M24 791.8H241.8M294.5 791.8H520" stroke="#111" stroke-width="1"/>
<text x="132.1" y="805" font-size="10.19" textLength="43.7" lengthAdjust="spacingAndGlyphs" class="m">Donor BM</text>
<text x="403.4" y="805" font-size="10.19" textLength="43.7" lengthAdjust="spacingAndGlyphs" class="m">Donor BM</text>
</svg></body></html>
